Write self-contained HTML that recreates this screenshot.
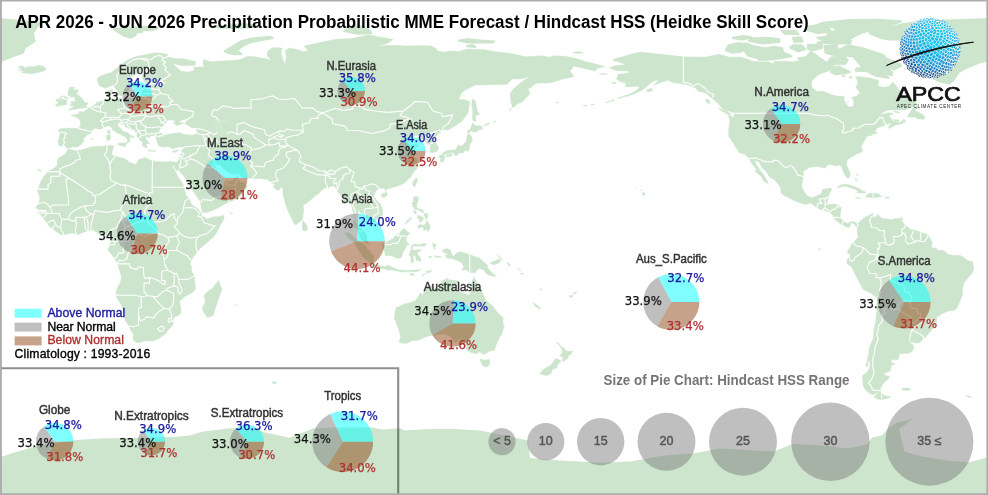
<!DOCTYPE html>
<html lang="en"><head><meta charset="utf-8"><title>APCC MME Forecast</title>
<style>
html,body{margin:0;padding:0;background:#fff}
svg{display:block}
text{font-family:'Liberation Sans',sans-serif}
.p{font-family:'DejaVu Sans','Liberation Sans',sans-serif;font-size:11.7px;text-anchor:middle;stroke-width:.25px}
.l{font-family:'Liberation Sans',sans-serif;font-size:11.9px;fill:#333;stroke:#333;stroke-width:.45px;text-anchor:middle}
.s{font-family:'Liberation Sans',sans-serif;font-size:12.5px;fill:#555;stroke:#555;stroke-width:.45px;text-anchor:middle}
.t{font-family:'Liberation Sans',sans-serif;font-size:18px;font-weight:bold;fill:#000}
.g{font-family:'Liberation Sans',sans-serif;font-size:12.2px;stroke-width:.35px}
</style></head>
<body>
<svg width="988" height="495" viewBox="0 0 988 495">
<rect width="988" height="495" fill="#fff"/>
<g id="land" fill="#cce5cc" stroke="#cce5cc" stroke-width=".4" stroke-linejoin="round">
<path d="M67.6 149.4L69.2 149.1L75.5 150.8L82.1 149.7L92.0 146.7L105.1 146.1L110.6 145.3L113.9 146.1L112.8 149.4L111.4 154.6L114.1 155.7L119.9 157.4L125.1 158.7L129.2 162.0L136.0 164.5L138.5 159.5L145.6 157.6L149.5 159.8L152.7 160.9L158.2 161.5L165.6 162.0L170.8 161.2L172.2 161.7L176.3 162.3L177.7 161.7L179.3 166.7L177.7 171.3L175.7 169.4L173.0 165.3L172.5 166.4L176.3 173.0L179.3 179.0L181.8 182.0L184.0 186.7L185.6 193.8L186.4 196.0L189.4 198.2L191.9 204.8L196.5 207.5L200.7 211.9L202.0 215.7L206.9 219.0L212.4 217.1L218.4 216.5L224.2 215.2L223.9 219.0L220.1 225.6L216.5 233.0L212.4 237.9L207.8 242.0L200.1 248.6L195.7 253.8L192.4 258.5L190.0 263.9L191.3 266.1L191.9 272.2L194.4 275.7L194.9 283.1L195.5 288.6L192.7 292.4L185.0 296.5L179.3 301.8L180.9 307.8L180.9 313.0L178.2 315.5L173.5 317.6L173.0 320.1L173.3 323.7L171.6 326.4L168.6 329.4L165.9 333.3L160.1 337.9L153.8 340.7L148.1 340.7L144.0 341.2L138.5 342.9L134.1 341.2L132.8 337.4L133.8 334.4L131.1 331.1L128.9 325.9L125.1 320.4L123.4 310.5L120.7 303.7L116.6 297.9L116.0 292.7L116.9 289.1L120.4 282.0L121.5 277.6L119.9 271.6L117.4 263.9L116.0 260.7L112.5 255.7L107.6 249.4L109.5 246.4L110.6 242.3L110.3 236.5L106.5 235.2L102.9 235.4L100.2 235.7L97.4 232.4L93.0 230.0L90.3 230.2L86.5 231.3L83.2 232.4L78.0 234.6L72.8 233.0L67.3 234.1L62.7 235.4L58.6 233.3L54.2 230.2L50.3 227.2L47.6 224.2L46.2 221.5L42.7 217.9L41.0 214.9L38.0 213.5L38.3 210.5L35.8 207.2L38.6 203.7L39.9 197.9L38.8 194.1L37.2 190.5L39.4 185.9L40.2 182.6L44.0 176.0L48.4 171.1L53.1 168.6L55.8 166.9L57.5 164.2L56.9 161.2L58.6 158.2L62.9 155.4L65.1 154.3Z M218.7 280.4L222.0 290.0L220.1 294.1L217.4 302.3L214.6 310.5L213.0 315.7L207.5 317.4L203.4 311.9L202.3 307.2L205.3 302.3L204.2 295.4L207.8 291.3L212.4 288.6L215.2 284.5Z M69.0 148.6L66.5 147.5L64.6 145.6L59.1 146.1L58.0 141.5L59.9 134.6L58.3 129.7L60.7 128.6L68.1 128.0L73.3 128.3L78.8 128.6L80.5 125.0L80.5 120.9L77.7 117.9L70.6 114.9L78.3 114.3L79.4 111.3L84.0 111.9L88.9 107.8L94.7 105.0L96.9 102.3L102.9 100.9L107.0 100.6L108.1 98.2L106.5 95.4L106.2 91.3L112.8 89.4L111.9 93.8L110.0 95.4L110.6 97.3L111.7 98.4L113.9 99.5L116.9 99.0L121.0 97.9L122.9 99.8L128.9 98.2L134.9 98.4L138.5 97.6L141.5 94.9L141.2 92.7L142.9 90.2L145.6 89.1L149.7 91.3L150.8 87.5L148.1 85.3L151.4 84.7L160.4 84.5L166.4 83.4L162.3 81.2L152.2 82.6L146.7 83.6L144.5 82.0L142.6 79.0L142.6 74.6L153.3 69.4L149.7 67.2L144.5 67.8L139.3 72.7L131.1 76.5L130.8 81.2L134.4 85.0L129.2 86.9L128.6 92.1L126.5 93.5L121.5 95.7L119.3 95.2L116.3 89.4L112.8 85.0L105.6 88.3L99.1 85.8L98.0 82.0L97.4 78.2L100.2 76.3L107.0 73.5L111.1 72.7L118.0 67.2L123.2 63.1L127.5 60.1L135.8 56.5L144.0 54.9L154.4 52.7L161.8 53.2L168.6 54.6L165.9 56.5L174.4 58.4L182.3 58.4L196.0 61.7L194.6 65.6L182.3 65.8L172.5 63.6L179.0 69.4L180.9 71.3L187.8 72.1L194.6 70.5L193.3 67.2L204.8 66.7L202.8 63.9L203.7 59.5L211.1 61.7L217.9 61.2L231.6 60.4L239.8 59.5L248.0 56.2L253.5 56.5L261.7 57.9L267.2 59.0L271.3 60.4L267.2 55.7L267.2 51.6L272.7 47.5L282.2 48.0L280.9 53.0L283.6 61.2L285.0 64.5L285.8 59.8L286.4 55.7L285.0 50.8L289.1 48.0L297.3 49.4L302.8 51.6L308.3 50.8L304.1 46.1L321.9 42.0L335.6 39.3L352.1 38.4L369.3 34.6L376.7 36.5L393.1 39.3L387.7 43.4L376.7 46.1L384.9 45.6L393.1 45.3L406.8 46.1L420.5 45.6L431.5 46.1L436.9 48.9L436.9 51.0L445.2 52.1L447.9 51.0L458.8 51.6L467.1 48.9L483.5 49.4L494.4 51.6L508.1 53.0L521.8 55.7L524.6 56.8L541.0 55.7L549.2 57.1L554.7 55.7L565.6 56.2L576.6 58.4L584.8 61.2L595.7 63.9L604.8 66.4L597.1 68.6L595.2 71.0L582.1 68.0L573.8 66.1L571.1 70.2L569.7 70.2L573.8 76.8L562.9 79.0L554.7 81.7L549.2 83.1L538.2 83.1L534.1 84.5L531.4 87.2L528.1 89.1L530.0 93.5L527.3 96.8L521.8 102.3L517.7 103.7L512.8 107.8L510.9 102.3L510.0 94.1L513.1 89.1L521.8 81.7L530.0 76.3L521.8 79.0L512.2 79.0L506.8 84.5L497.2 84.5L483.5 85.0L475.3 85.0L467.1 89.1L461.6 92.7L458.8 99.5L464.3 99.5L469.8 101.5L468.4 110.5L467.9 113.2L461.6 121.5L454.7 126.1L447.9 130.2L445.2 129.4L441.6 131.6L439.1 133.0L435.6 137.4L433.1 138.4L432.8 140.1L435.8 142.8L438.0 146.1L438.3 148.9L437.2 151.3L433.1 152.4L429.8 152.4L430.4 148.9L430.4 144.8L427.4 144.2L426.0 141.5L424.3 138.2L416.7 140.9L418.3 136.0L415.0 135.4L411.2 138.2L406.3 140.6L408.2 143.4L409.6 145.3L416.1 144.5L419.1 145.6L413.4 148.9L410.4 152.4L413.7 156.3L417.5 160.6L417.2 162.6L413.7 164.5L417.8 165.8L416.4 169.4L414.5 170.8L411.2 176.3L407.1 180.4L403.3 183.7L396.4 186.4L394.5 186.9L389.8 188.3L386.3 189.4L385.5 191.9L384.4 188.6L380.3 188.3L376.2 190.5L373.4 196.3L378.3 202.3L380.0 203.4L382.7 209.7L382.7 214.9L377.0 219.0L375.3 221.5L370.7 223.9L371.5 220.1L369.0 218.5L367.1 218.5L364.4 214.1L360.3 212.7L358.9 210.5L357.3 213.3L355.3 218.7L355.9 222.3L359.2 227.8L363.6 230.5L366.8 235.2L366.8 239.8L369.0 243.7L366.8 243.7L363.6 241.5L361.1 239.3L358.4 232.7L356.2 228.3L352.9 225.6L353.7 220.1L354.0 214.6L352.3 209.1L351.0 202.3L347.1 202.0L344.7 204.2L341.9 203.7L342.5 198.2L340.0 194.1L338.1 192.4L335.1 186.4L331.5 186.1L328.8 187.8L325.0 188.0L321.9 190.0L319.2 193.2L315.9 195.4L311.8 199.0L309.1 201.2L306.1 203.7L303.3 205.3L303.6 211.6L302.5 219.3L300.0 222.0L297.9 223.1L295.9 225.3L293.5 222.8L292.4 220.1L288.5 212.2L285.8 205.0L283.1 195.4L282.8 189.4L282.2 186.7L278.1 190.8L272.7 186.7L275.4 184.5L271.3 183.1L267.2 179.5L260.3 178.5L254.3 178.7L249.7 178.2L242.0 177.4L237.9 173.2L234.1 174.6L227.5 171.9L222.8 168.3L220.6 164.8L217.4 164.8L215.2 166.9L217.1 170.8L220.9 174.9L222.8 179.5L224.2 176.0L225.0 180.1L227.5 181.2L232.7 180.6L235.2 178.2L238.2 175.4L238.2 178.7L239.8 181.7L244.2 182.8L247.5 185.9L243.9 191.6L241.7 194.1L238.4 198.2L231.9 200.9L226.7 203.1L218.2 207.8L212.4 210.5L206.9 212.4L202.6 212.7L201.2 206.9L200.1 201.2L196.0 195.4L191.1 188.6L187.8 181.5L183.4 175.7L179.3 170.8L179.6 166.7L177.7 161.7L179.0 159.5L179.6 157.6L180.9 154.6L181.8 153.2L181.8 150.2L182.9 147.2L178.5 146.7L173.5 148.9L167.8 146.4L163.4 147.2L161.2 146.7L158.8 146.1L157.1 142.3L156.8 139.8L155.5 137.9L160.4 136.8L165.6 136.0L163.1 135.2L170.8 133.8L179.8 132.4L183.1 134.3L192.4 135.2L197.6 133.5L196.0 129.7L192.4 128.0L187.2 125.0L184.5 123.1L188.6 119.5L191.3 118.2L186.4 118.4L184.5 119.5L179.0 120.9L180.1 122.6L183.7 123.1L180.7 124.2L177.4 125.6L175.5 125.3L175.2 123.7L172.7 123.1L176.0 121.2L172.7 120.1L167.8 120.1L165.1 123.7L162.3 126.4L160.1 129.1L159.0 131.1L160.4 132.7L163.1 134.6L159.0 135.2L156.8 136.8L155.5 137.8L157.1 136.3L154.7 135.7L150.5 135.4L149.5 137.9L147.5 137.4L146.4 136.3L145.6 137.9L146.7 139.8L149.5 143.4L148.6 143.7L146.7 143.7L146.2 144.8L147.3 147.8L145.3 147.8L144.2 146.1L143.2 146.7L142.1 144.5L143.2 142.8L142.3 142.6L140.4 140.6L139.0 139.3L136.9 136.8L136.9 134.3L136.0 132.1L133.3 130.8L128.6 128.3L125.4 126.7L123.2 123.4L121.5 124.5L121.3 122.3L117.7 123.1L118.0 124.5L118.2 126.9L120.7 128.0L122.6 131.1L128.1 132.7L130.0 134.9L133.0 136.3L134.1 138.4L133.0 137.9L130.8 136.5L129.2 138.7L130.6 140.6L128.9 142.3L126.7 143.7L127.3 141.5L127.5 139.5L126.5 137.9L124.3 136.3L122.6 135.7L121.0 134.6L117.1 133.0L116.0 132.1L112.5 130.0L111.9 128.3L110.6 126.7L108.1 125.8L107.0 126.1L103.7 127.8L99.9 129.4L98.5 128.9L96.1 128.6L94.4 128.3L92.0 130.8L92.8 131.6L89.8 134.1L87.0 134.9L86.2 136.0L82.9 139.3L84.3 141.5L82.4 142.6L81.3 144.5L77.7 146.9L71.7 146.9Z M68.1 110.2L72.5 109.7L77.2 108.9L80.2 108.3L87.6 107.5L85.7 106.4L88.4 103.1L84.3 102.6L83.7 100.6L82.1 98.2L79.9 96.8L78.3 94.6L75.5 94.1L76.6 93.2L78.3 91.0L78.3 89.4L72.2 90.0L75.3 87.5L70.0 86.9L69.2 88.9L67.9 91.3L68.4 93.2L67.9 96.0L70.9 95.4L69.8 97.3L74.2 97.1L75.0 99.3L75.5 101.2L71.1 101.5L70.9 102.8L72.5 103.9L69.2 105.3L72.8 106.1L75.0 106.7L76.3 106.4L72.5 107.2L71.4 107.8Z M63.5 95.7L68.4 97.9L66.8 99.5L67.0 101.5L66.5 104.5L61.0 105.6L56.9 106.4L55.3 104.7L57.5 103.4L58.8 101.7L55.8 101.2L56.1 99.5L60.2 98.7L59.9 97.3L61.0 96.3Z M21.6 72.7L29.0 73.5L32.5 73.8L39.9 72.1L44.0 71.0L46.5 69.1L43.8 66.7L39.4 65.3L34.5 66.4L28.2 66.7L24.9 68.0L22.1 65.6L18.0 67.2L22.4 69.4L18.0 69.9L23.5 71.3Z M572.5 52.4L579.3 51.6L583.4 53.0L576.6 53.5Z M472.5 98.7L475.3 100.9L476.1 105.0L477.5 111.9L479.9 113.8L475.3 116.0L475.8 119.3L476.6 120.9L473.9 121.5L472.3 119.8L472.5 116.0L472.8 110.5L471.7 105.0Z M472.3 122.8L475.3 125.6L481.6 126.1L482.7 128.9L478.6 130.0L475.8 132.4L471.2 131.1L467.9 133.8L467.1 131.1L470.3 129.1L471.7 125.6Z M469.5 133.8L471.2 136.5L472.5 139.3L471.2 142.6L469.8 143.9L469.5 146.4L469.3 149.7L467.1 151.6L466.5 150.0L464.3 151.3L463.8 152.7L462.1 152.7L458.8 152.7L458.6 153.5L456.9 155.7L455.6 155.7L453.6 153.5L454.5 152.7L450.6 152.7L447.9 153.5L445.7 154.6L442.4 154.3L442.1 153.2L445.2 151.6L447.9 150.2L452.0 150.0L454.7 150.0L456.1 148.9L458.0 145.3L459.7 144.8L458.8 146.7L463.0 145.3L464.3 143.4L466.5 140.6L467.1 137.9L466.8 136.3L467.9 134.6Z M446.5 154.9L451.2 153.5L452.5 154.9L451.2 156.3L449.3 156.0L447.9 157.6L446.3 156.0Z M442.1 154.6L444.3 155.4L445.2 157.1L443.5 161.5L441.6 162.6L440.2 161.7L440.5 158.5L438.9 157.1L439.7 155.4Z M416.4 178.2L417.8 179.0L416.4 183.1L414.8 187.2L412.8 185.0L412.6 182.8L415.0 179.0Z M386.8 192.4L387.7 193.8L386.3 196.0L383.8 197.6L381.4 196.8L381.1 194.6L383.6 193.0Z M302.8 220.6L305.2 223.1L307.7 227.0L307.4 229.7L304.4 231.3L302.5 229.7L302.2 225.6Z M413.9 196.8L418.3 196.8L418.3 200.9L416.7 203.7L416.7 206.4L417.8 208.6L423.0 209.7L423.5 213.0L421.3 211.9L419.1 210.2L417.0 209.4L413.9 209.4L414.8 207.5L412.8 206.9L412.0 202.8L413.4 202.0L413.1 199.6Z M427.1 220.6L429.5 224.2L430.4 227.5L429.3 230.2L427.1 232.2L427.6 228.9L423.8 230.5L423.3 227.5L421.6 227.0L418.0 228.6L417.8 226.1L420.5 224.2L422.7 225.6L425.2 224.2Z M424.1 213.3L427.4 213.3L427.9 216.8L426.0 219.6L425.2 219.3L425.4 216.3L424.1 216.0Z M417.8 215.2L420.8 216.0L422.2 217.9L423.3 216.8L423.3 219.6L421.6 221.5L421.1 222.6L419.1 221.2L420.0 218.7L417.5 218.7Z M404.6 224.5L408.2 222.0L410.9 219.3L411.5 216.5L410.4 217.9L407.4 220.6Z M413.1 210.8L415.9 211.1L416.4 213.8L415.0 214.1Z M383.8 242.0L385.7 242.8L388.5 240.7L393.1 238.7L395.9 235.2L398.6 233.8L401.3 231.1L403.5 228.3L406.0 230.0L406.8 231.3L410.1 233.3L406.8 236.0L406.0 238.5L406.8 242.0L409.6 244.8L406.3 245.3L405.5 248.9L403.5 251.1L402.2 254.4L401.9 257.1L397.5 258.7L393.1 256.3L389.6 255.7L385.5 255.4L384.9 252.4L382.7 247.5L382.2 243.9Z M344.7 232.2L349.9 233.3L354.0 237.1L358.6 241.2L361.6 242.8L365.8 245.9L367.9 250.2L369.6 250.5L371.2 254.1L374.0 255.7L373.7 259.8L373.4 263.4L371.8 263.4L369.9 262.8L363.8 257.9L358.4 250.2L354.3 242.8L346.9 236.3Z M371.8 266.1L374.0 263.7L376.2 264.2L381.1 265.9L386.0 266.4L387.7 265.0L392.3 267.2L397.0 268.9L397.0 271.1L393.1 270.2L387.7 270.0L382.2 268.6L378.1 268.6L375.1 267.5Z M397.2 269.7L401.3 270.0L404.1 270.5L409.6 270.2L412.3 270.2L420.0 269.7L420.5 270.5L415.0 271.9L409.6 271.6L404.1 272.2L401.3 271.9L397.2 271.1Z M421.9 275.7L424.1 273.3L426.5 271.1L432.0 270.5L430.1 272.2L426.0 273.5L423.3 275.4Z M409.6 273.5L412.8 273.3L414.5 274.9L412.3 275.7L409.6 274.4Z M411.8 245.3L414.5 243.9L419.1 244.8L424.6 243.1L426.5 243.4L424.6 246.4L420.5 246.1L416.4 246.1L412.8 246.1L412.3 250.0L415.6 250.0L418.3 249.7L421.6 250.0L421.3 250.5L417.0 252.7L418.9 256.3L421.1 258.5L420.5 262.0L418.6 260.7L416.4 260.4L415.0 254.9L413.1 255.4L413.4 260.7L413.4 262.8L410.9 262.6L410.9 257.1L409.0 254.9L410.4 251.1Z M432.8 242.0L434.2 244.8L436.1 243.4L436.1 246.7L433.9 246.7L435.3 249.7L433.4 248.3L432.8 244.8Z M434.2 255.7L441.9 256.5L439.7 257.4L434.5 256.8Z M428.7 256.3L432.0 256.5L430.9 257.9L429.0 257.4Z M442.4 249.7L446.5 248.6L450.6 249.7L451.2 253.0L453.4 256.5L456.1 253.5L460.2 251.6L464.3 253.0L469.8 254.6L475.3 256.8L479.4 257.9L482.9 261.2L486.2 263.9L488.4 265.9L486.8 266.7L489.0 269.4L491.7 272.2L494.4 274.9L496.6 275.7L494.4 276.5L489.0 275.2L486.2 273.5L483.5 270.0L479.4 268.3L476.6 270.2L475.3 272.7L469.8 272.4L465.7 269.7L461.6 270.2L463.8 266.7L461.6 262.6L456.1 260.1L450.6 258.2L447.3 258.5L445.2 255.4L449.3 254.4L445.7 253.5L442.4 251.3Z M489.8 262.8L494.4 261.2L498.5 259.0L500.7 259.3L499.9 262.6L495.8 264.5L491.7 264.5Z M496.6 254.6L499.9 256.5L502.7 259.8L501.8 260.1L498.5 256.3Z M507.0 261.7L510.3 264.8L509.8 266.4L507.6 263.9Z M520.5 273.0L524.0 273.8L522.6 274.6L520.7 274.1Z M517.7 268.3L521.3 270.5L520.5 270.8L517.4 269.1Z M473.9 276.8L476.6 281.8L478.0 286.7L481.6 290.0L482.9 293.8L485.7 300.4L492.2 305.6L496.6 311.6L501.0 315.7L503.2 317.4L502.9 322.9L504.3 325.9L502.9 330.5L501.3 335.2L499.4 337.6L498.0 340.4L496.6 343.7L494.4 350.2L489.0 351.3L484.6 354.6L480.8 352.7L479.9 351.6L476.6 353.8L471.4 352.7L467.1 350.2L466.0 346.1L463.0 344.8L463.0 343.4L461.6 341.5L458.8 343.9L460.5 339.3L461.0 336.6L458.8 339.8L455.8 343.1L453.4 339.8L449.5 335.5L442.4 333.8L436.7 334.4L428.7 336.0L423.3 337.9L417.5 340.4L412.3 340.4L406.8 343.4L401.3 343.1L398.9 341.8L400.3 338.7L400.5 335.2L398.6 329.7L397.5 326.4L395.3 320.4L394.2 318.7L394.8 314.6L395.1 311.9L396.1 307.2L398.9 306.7L403.5 304.2L408.5 303.1L415.0 300.9L418.3 296.8L420.2 292.4L422.2 295.2L424.6 291.3L427.4 287.2L431.2 285.3L434.5 288.6L438.3 288.3L440.2 283.7L441.9 281.5L446.5 278.2L449.3 279.8L454.7 280.4L458.6 280.9L456.1 284.5L454.7 288.1L458.3 291.1L464.3 293.5L469.3 295.4L471.2 290.0L471.4 284.5L472.0 282.0Z M479.9 359.0L484.9 360.1L489.5 359.6L489.8 363.1L488.7 365.9L485.7 367.0L482.9 365.9L481.3 363.1Z M556.6 341.8L558.8 343.4L561.5 347.0L564.3 348.1L565.4 350.5L568.4 351.6L572.5 350.8L571.1 354.4L568.4 355.5L568.1 357.9L563.7 361.5L562.1 360.7L563.2 357.6L559.6 355.5L561.8 353.8L562.3 350.2L560.7 347.2L557.4 343.4Z M556.6 358.5L560.7 360.4L560.2 362.3L556.9 366.1L557.4 367.8L552.8 368.9L551.1 373.3L547.8 375.2L544.5 375.2L539.6 373.5L542.4 370.3L545.9 367.8L550.6 365.3L553.3 362.0L554.9 359.3Z M532.8 302.6L536.9 305.0L541.0 308.6L539.6 308.9L535.5 306.4L532.8 303.1Z M569.2 295.2L572.7 295.4L572.5 297.4L569.5 297.1Z M573.0 293.0L576.6 291.9L576.0 293.5L573.6 294.1Z M539.9 288.6L541.5 289.1L541.3 290.5L540.2 290.2Z M642.3 192.2L645.0 193.2L645.0 194.6L643.1 195.7L642.3 194.1Z M640.4 190.0L642.3 190.5L641.2 191.1Z M636.3 188.3L637.6 188.9L636.5 189.1Z M640.9 52.1L653.2 53.5L664.2 54.6L683.4 56.8L699.8 57.1L705.3 57.1L719.0 54.3L729.9 57.3L740.9 57.1L754.6 61.7L768.2 61.7L773.7 63.9L773.7 61.2L784.7 61.2L792.9 61.7L803.8 59.8L806.6 55.7L810.7 50.5L816.2 54.3L820.3 57.6L824.1 60.1L826.8 62.0L828.5 59.5L831.2 56.8L836.7 56.0L844.9 56.2L848.7 59.8L846.0 64.5L833.1 65.3L834.0 68.0L829.8 70.8L821.1 73.5L817.5 75.4L812.0 80.4L811.5 86.4L816.2 91.3L823.0 91.3L829.8 94.1L836.7 96.0L844.1 96.3L844.4 102.3L849.0 106.9L853.1 106.4L853.7 102.3L853.1 99.5L851.2 97.6L856.7 96.0L860.0 92.7L855.9 87.2L857.8 83.1L856.1 76.5L862.4 77.1L870.9 78.2L878.9 80.4L877.8 85.8L882.1 87.2L888.7 86.4L892.8 82.0L898.3 88.6L900.5 92.7L905.1 95.7L910.6 98.2L913.4 100.4L917.2 104.2L913.1 106.7L905.1 110.0L896.9 110.0L887.6 110.0L882.7 112.7L877.8 117.4L881.9 114.6L888.7 112.7L893.4 113.8L888.7 116.0L891.5 118.7L892.8 120.9L898.3 122.3L901.0 122.0L904.0 118.7L905.7 121.5L902.4 123.4L895.3 125.3L889.8 128.6L888.4 127.5L889.3 125.3L892.8 123.1L888.7 123.7L886.0 124.7L882.7 126.1L877.2 128.0L875.0 131.6L877.8 133.2L873.7 134.1L866.8 136.3L864.3 140.9L863.8 142.6L861.3 145.8L861.3 146.4L862.7 151.1L860.0 152.7L856.1 154.3L850.7 157.6L847.4 159.8L846.5 164.5L848.7 169.7L850.4 174.3L849.8 176.8L847.9 178.5L845.5 176.0L843.0 171.3L842.2 167.8L839.4 165.0L836.7 166.1L830.7 164.5L828.5 164.5L825.2 168.0L821.6 167.5L817.5 166.4L809.9 167.2L803.3 171.3L803.3 176.5L801.6 186.7L806.3 194.9L811.0 197.6L815.9 196.5L821.6 193.2L821.9 190.0L823.8 189.1L830.9 188.3L831.8 189.7L830.1 192.2L828.5 196.8L827.9 199.6L826.8 203.7L826.8 204.5L831.8 204.2L834.0 203.7L841.6 206.4L840.2 214.6L840.2 217.6L842.2 220.1L844.4 222.0L847.6 223.4L850.7 221.7L853.1 221.2L857.5 223.7L856.1 227.8L855.3 224.8L851.7 222.8L849.0 227.5L845.7 226.7L842.4 225.0L840.5 224.2L837.5 221.2L834.8 220.1L834.5 217.4L829.8 211.9L827.1 211.3L820.3 209.4L816.7 207.8L810.7 203.1L805.2 204.5L795.9 201.5L789.6 198.2L783.8 195.4L780.0 191.6L781.1 190.8L780.8 188.3L778.1 183.9L773.7 179.0L769.9 177.4L765.8 171.1L762.2 168.0L758.7 161.7L755.1 160.4L755.1 162.6L758.7 168.0L761.9 172.7L764.7 176.3L767.4 181.2L768.5 184.8L767.4 183.1L762.8 180.4L762.2 177.6L758.7 174.3L754.6 171.3L756.7 169.4L752.4 164.5L750.2 160.4L748.5 157.9L745.0 154.3L739.5 153.0L735.7 147.2L734.0 143.9L728.8 136.8L728.5 130.2L729.9 120.9L728.0 114.9L734.0 117.4L734.0 113.8L732.1 112.4L727.7 110.5L721.7 107.8L719.0 104.5L712.7 98.7L709.1 96.0L705.3 92.7L698.4 91.3L695.4 88.0L686.6 84.5L675.1 83.1L670.5 81.7L668.6 80.1L660.4 82.8L653.8 85.3L658.7 79.8L653.2 81.2L649.1 84.5L647.8 85.8L642.3 90.0L635.4 93.2L628.6 96.0L622.0 97.3L623.1 96.0L630.0 94.1L636.8 90.0L639.6 86.7L635.4 86.4L625.3 86.9L625.9 83.1L620.4 81.7L616.3 79.0L617.6 76.3L618.2 74.3L625.9 73.5L629.1 72.4L628.1 70.8L616.6 70.8L609.2 67.8L614.9 65.8L623.1 65.0L624.5 64.2L619.0 62.0L612.7 60.4L614.4 58.7L623.1 56.5L631.3 54.1Z M717.9 108.3L725.8 110.0L731.3 114.6L731.3 115.2L727.2 114.1L723.1 111.9Z M705.3 99.0L708.8 99.5L710.2 104.5L706.6 102.3Z M646.4 90.0L651.9 88.0L652.7 90.5L647.8 91.9Z M907.1 117.1L909.5 113.2L912.5 108.6L916.4 106.1L917.5 108.6L914.7 110.8L918.8 112.4L922.9 114.3L925.1 117.1L923.8 119.5L921.0 119.0L916.6 119.0L916.1 117.1Z M893.1 111.0L899.7 112.1L900.2 113.0L895.6 112.4Z M893.4 119.5L899.1 120.1L898.3 121.5L894.7 120.9Z M867.1 136.0L872.3 134.9L870.9 135.7Z M837.0 187.5L841.6 184.5L846.3 184.2L851.7 185.6L858.6 188.3L862.7 190.8L866.3 192.2L864.1 193.0L857.0 193.0L858.0 191.1L854.5 188.9L849.0 187.5L844.9 186.1L840.8 186.9Z M865.7 197.1L868.5 193.2L873.1 193.2L878.0 193.8L882.1 196.5L879.1 197.1L875.0 197.6L873.1 199.0L870.9 197.6Z M855.0 197.4L860.5 197.9L858.6 198.7Z M885.4 197.1L889.8 197.4L888.7 198.2L885.4 198.2Z M899.9 218.2L902.7 217.9L902.4 219.8L899.9 219.8Z M855.0 178.7L856.4 181.2L857.0 180.4L855.9 178.5Z M856.4 174.1L858.6 174.9L858.3 175.7L856.1 174.6Z M857.5 223.7L862.7 219.0L864.6 217.4L866.3 216.5L873.1 213.5L874.2 215.4L873.4 217.9L877.2 215.7L877.8 214.1L879.1 216.0L883.2 218.7L886.0 218.5L891.5 219.8L894.2 218.7L899.7 218.2L902.4 221.5L903.8 223.9L910.1 228.9L918.3 231.3L926.2 234.1L929.0 236.0L932.5 242.8L931.2 247.5L936.6 248.3L937.2 250.2L943.5 250.5L948.4 254.6L955.0 255.4L959.9 255.2L964.0 257.6L968.1 260.7L972.8 261.7L973.0 263.4L973.9 269.4L971.7 274.1L968.1 277.6L964.0 283.1L962.6 288.1L962.6 292.7L962.1 296.0L959.1 303.1L957.2 307.8L954.4 310.5L951.1 310.5L942.7 313.3L936.6 317.4L936.6 323.1L935.8 325.9L933.3 327.8L926.8 335.7L923.2 339.8L918.8 343.1L915.5 343.1L910.9 341.8L909.5 342.3L912.8 344.8L914.2 347.0L912.0 351.6L908.7 353.3L899.1 354.1L898.8 358.5L896.9 360.1L891.5 359.3L891.5 362.6L895.3 363.9L891.5 365.3L891.2 366.1L890.6 370.8L884.6 373.3L884.3 374.9L889.3 376.6L889.0 378.5L884.1 382.6L880.0 388.9L882.1 390.8L875.3 393.3L873.7 394.9L869.5 393.5L865.4 390.0L863.2 385.9L862.7 380.4L862.4 375.7L866.8 372.2L869.5 368.1L870.1 363.9L869.5 361.2L867.4 361.2L867.4 357.1L868.5 356.6L869.0 348.3L873.4 337.9L873.9 329.7L875.6 321.5L876.7 312.2L877.2 302.8L876.9 298.2L873.9 295.7L872.3 294.1L863.5 289.7L860.8 285.0L858.3 280.4L854.2 272.4L853.1 269.7L850.7 266.1L847.1 263.9L846.8 260.4L849.0 257.1L850.7 254.4L847.6 253.5L847.9 250.2L850.1 247.5L851.2 244.8L853.7 242.6L858.3 236.8L857.2 232.4L857.5 228.9L856.1 227.8Z M881.6 391.6L882.4 393.5L884.6 395.5L890.9 397.1L887.3 398.5L881.9 399.6L877.8 399.3L873.7 396.8L876.4 394.4L877.8 392.4Z M866.8 362.0L868.2 362.6L867.9 366.4L865.7 365.9Z M902.4 388.1L907.9 388.1L911.2 388.9L907.9 390.8L902.4 390.0Z M617.6 97.9L621.8 96.8L622.3 97.6L618.2 98.7Z M610.0 100.9L614.1 99.5L614.4 100.6L610.8 101.7Z M606.2 102.6L609.4 100.9L609.7 101.7L606.7 103.1Z M590.3 104.7L594.4 103.9L594.4 104.7L590.3 105.3Z M583.4 105.6L586.7 105.0L586.7 106.1L583.4 106.1Z M556.0 102.3L558.8 102.3L558.2 103.1L556.0 102.8Z M611.1 82.6L615.7 82.0L615.7 83.6L612.2 83.6Z M599.3 73.5L606.7 73.8L607.2 74.6L599.9 74.3Z M483.5 125.6L488.4 123.1L490.3 123.1L486.2 125.6Z M493.1 122.0L495.8 120.6L495.3 121.5L493.3 122.6Z M509.0 110.0L511.4 108.3L511.1 109.7L509.5 110.5Z M857.2 61.2L862.7 60.6L864.1 62.6L858.6 63.1Z M849.0 76.5L852.3 76.8L851.2 78.7L849.6 78.2Z M842.2 75.2L845.5 75.2L845.2 76.5L842.2 76.8Z M844.9 102.0L849.0 102.3L847.6 102.8Z M965.4 395.5L970.9 396.3L971.1 397.7L966.7 396.6Z M272.1 381.8L276.8 382.0L275.9 383.7L272.7 383.4Z M229.7 212.7L233.0 213.0L232.1 213.8L230.2 213.5Z M148.1 150.0L155.7 150.8L155.5 151.6L148.4 151.1Z M172.2 151.3L178.5 149.7L176.8 151.6L174.1 152.7L172.5 152.1Z M117.7 143.4L126.5 142.6L125.1 146.9L118.0 144.5Z M106.2 135.4L110.3 134.6L110.3 140.1L107.0 140.6L106.7 137.9Z M107.3 131.3L109.8 129.7L109.8 133.5L107.8 133.8Z M90.3 139.0L93.0 138.4L92.5 139.8L90.9 139.5Z M114.1 94.9L118.2 93.8L118.0 96.3L114.7 96.3Z M133.3 90.5L136.3 88.9L135.2 90.8L133.6 91.6Z M37.5 169.7L39.7 169.1L38.8 170.8L41.6 170.5L41.6 171.3L38.0 170.8Z M234.9 304.8L236.5 305.0L236.0 306.1L235.2 305.6Z M818.9 248.3L820.5 248.9L820.0 250.2L818.9 249.7Z"/>
<path d="M113.9 29.1L127.5 28.3L138.5 28.8L142.6 31.6L135.8 32.7L135.5 35.4L130.3 37.6L124.8 36.0L120.7 33.5Z M133.0 27.8L144.0 26.9L157.7 28.0L152.2 30.2L138.5 29.7Z M224.7 51.3L228.9 48.6L235.7 44.7L241.2 41.2L250.8 38.7L269.9 36.8L272.7 37.9L259.0 40.4L249.4 42.5L242.5 46.1L237.1 50.2L241.2 54.1L234.3 54.1L228.9 53.2Z M212.4 26.9L226.1 26.1L242.5 24.2L256.2 25.6L248.0 27.5L231.6 28.0Z M343.9 31.0L349.3 26.9L357.5 25.6L368.5 29.7L371.2 33.0L357.5 33.8Z M458.8 40.6L467.1 39.3L480.8 40.6L494.4 41.5L491.7 42.5L475.3 42.5L467.1 42.5Z M467.1 46.1L475.3 46.9L472.5 45.0Z M849.0 45.6L861.3 48.0L872.3 51.6L883.2 54.9L886.0 58.4L899.7 63.9L901.0 65.8L894.2 69.4L884.6 65.8L891.5 72.1L892.3 75.2L881.9 73.0L888.7 77.9L875.0 75.4L866.8 71.0L855.9 70.8L856.4 68.3L861.3 68.6L861.3 65.8L858.6 62.6L855.9 59.5L853.1 56.2L844.9 55.7L836.7 55.7L825.7 53.0L824.4 46.1L836.7 45.3L838.1 50.2L847.6 45.6Z M745.0 51.3L748.3 55.7L757.3 57.9L758.7 59.8L771.0 59.5L781.9 57.9L791.5 56.2L783.3 52.4L781.9 48.0L773.7 46.9L765.5 48.6L754.6 46.4L745.0 48.6Z M725.8 50.2L732.6 52.7L740.9 51.6L746.3 48.9L753.2 46.1L747.7 43.9L736.8 43.4L728.5 45.3Z M749.1 40.6L762.8 43.4L779.2 42.0L779.2 39.3L768.2 37.9L754.6 38.2Z M790.1 47.5L798.4 51.6L805.2 48.9L801.1 45.3L792.9 45.3Z M807.9 44.7L821.6 44.7L821.6 48.0L813.4 50.2L807.9 48.9Z M817.5 37.9L825.7 40.6L817.5 42.8L836.7 43.4L850.4 43.1L850.9 40.6L839.4 38.2L824.4 37.1Z M825.7 37.6L850.4 38.7L856.4 35.1L864.1 31.9L875.0 29.4L892.8 24.2L901.0 21.4L877.8 19.8L850.4 20.1L823.0 22.8L817.5 25.0L834.0 27.5L836.7 30.5L828.5 33.8Z M806.6 26.9L820.3 24.7L828.5 28.3L831.2 31.6L817.5 33.0L806.6 29.7Z M792.9 37.9L801.1 37.6L802.5 41.5L794.3 42.0Z M781.9 31.0L795.6 31.0L798.4 34.3L784.7 33.8Z M732.6 37.9L743.6 36.0L751.8 37.6L740.9 39.5Z M831.2 67.5L839.4 66.9L849.8 72.1L843.5 73.5L835.3 74.3L831.2 72.1L834.0 69.4Z M798.4 58.4L807.9 57.1L806.6 59.8L799.7 59.5Z M-116.1 33.2L-105.2 37.9L-97.0 39.5L-86.0 39.3L-75.1 41.2L-69.6 48.0L-65.5 53.5L-55.9 57.9L-63.3 63.9L-57.8 71.6L-52.3 77.6L-47.7 80.9L-36.7 83.6L-32.6 80.4L-27.1 72.1L-19.2 67.8L-6.6 62.6L2.1 60.4L10.4 57.1L23.2 52.4L24.9 47.5L34.5 41.2L32.8 33.0L39.4 23.4L23.5 21.2L-1.1 19.3L-39.5 20.6L-66.9 22.0L-83.3 24.2L-94.2 26.9L-102.4 28.8Z M869.5 33.2L880.5 37.9L888.7 39.5L899.7 39.3L910.6 41.2L916.1 48.0L920.2 53.5L929.8 57.9L922.4 63.9L927.9 71.6L933.3 77.6L938.0 80.9L948.9 83.6L953.1 80.4L958.5 72.1L966.5 67.8L979.1 62.6L987.8 60.4L996.0 57.1L1008.9 52.4L1010.6 47.5L1020.1 41.2L1018.5 33.0L1025.1 23.4L1009.2 21.2L984.5 19.3L946.2 20.6L918.8 22.0L902.4 24.2L891.5 26.9L883.2 28.8Z" stroke-width="2.1"/>
<path d="M0.0 456.5L2.5 456.5L12.6 453.0L25.0 449.4L38.0 445.6L76.0 440.0L101.0 438.5L126.5 438.0L177.0 436.8L190.0 435.5L202.0 431.7L228.0 428.4L250.0 427.8L267.0 433.0L281.0 435.7L289.0 437.7L295.0 435.7L313.0 428.6L331.0 427.6L372.0 427.6L382.0 429.6L400.0 428.2L404.5 430.4L430.0 429.0L455.0 429.0L480.0 430.4L505.0 435.5L528.0 440.5L530.0 458.0L556.0 460.3L601.5 462.8L632.0 461.3L662.0 455.7L695.0 453.2L720.0 448.6L747.0 450.0L774.0 451.4L793.0 443.8L828.5 446.0L847.5 448.6L866.5 444.6L872.0 437.8L882.7 435.0L888.0 428.3L896.3 422.9L912.6 418.8L904.4 425.6L899.0 428.3L901.7 440.5L904.4 451.4L923.4 456.8L950.5 460.9L969.5 462.2L988.0 457.3L988.0 495.0L0.0 495.0Z" stroke="none"/>
</g>
<path id="caspian" d="M211.6 125.3L213.8 122.6L217.9 120.1L223.4 119.0L226.1 119.0L228.9 119.5L229.4 123.4L223.9 123.9L221.5 125.6L223.7 128.0L227.5 130.2L228.3 133.8L228.9 137.9L231.0 140.6L231.3 144.8L231.6 146.4L226.1 147.2L219.3 144.8L217.6 142.3L218.7 139.3L221.5 137.1L219.3 136.3L216.0 132.4L213.8 129.7L213.8 126.9Z" fill="rgba(255,255,255,.08)"/>
<path id="borders" d="M683.4 56.8L683.4 82.3L688.8 83.1L692.9 86.1L698.4 83.6L704.2 87.5L708.6 92.4L713.5 94.1L712.7 97.3 M732.1 113.2L808.8 113.2L810.4 114.1L817.5 115.2L824.4 116.0L827.4 115.2L837.2 119.0L840.8 121.5L843.5 123.4L843.8 129.7L841.9 132.1L843.5 133.2L853.1 130.2L852.6 128.3L859.1 128.0L860.5 126.4L864.9 124.2L873.7 124.2L875.6 123.1L877.8 119.5L880.0 117.6L883.2 117.9L883.8 121.7L885.4 123.7L886.0 124.7 M748.8 158.5L755.4 157.9L765.5 161.7L773.2 161.7L773.2 160.4L777.8 160.4L783.3 166.4L786.9 168.0L789.0 165.8L791.8 165.8L795.6 170.8L797.8 174.9L803.3 176.5 M817.0 207.8L817.0 205.6L818.3 203.4L821.9 203.4L819.2 200.1L820.3 198.7L825.2 198.7L827.7 196.8 M825.2 198.7L825.2 203.9L826.8 204.5 M825.2 203.9L824.9 208.0L822.7 210.0 M824.9 208.0L827.1 209.4L829.0 210.8 M830.4 211.9L832.0 209.7L834.8 209.1L837.0 206.9L841.6 206.4 M834.8 217.1L837.5 217.4L840.2 217.6 M842.4 225.0L842.4 222.6L843.3 221.2 M856.1 227.8L858.0 225.9L857.5 223.7 M873.1 193.5L873.1 198.7 M874.2 215.2L870.9 217.1L869.5 222.0L871.2 224.5L871.2 227.2L877.5 228.3L879.4 230.8L884.6 230.5L883.8 235.7L885.2 238.2L885.4 241.2L886.2 244.2 M886.2 244.2L885.7 242.8L878.3 242.8L878.3 244.5L880.0 244.8L879.4 248.9L877.8 248.0L878.0 259.0 M878.0 259.0L875.8 257.9L877.5 254.9L869.8 254.1L867.6 251.1L863.2 247.8L860.5 246.4L857.2 246.4L853.7 243.7 M863.2 247.8L862.4 251.6L859.7 254.6L855.3 257.1L853.9 260.1L851.7 261.2L849.6 259.6L849.6 256.8 M878.0 259.0L869.8 262.0L867.1 267.5L869.8 273.3L876.1 273.5L876.1 277.6L879.1 277.6 M879.1 277.6L881.3 281.8L880.5 288.1L879.4 290.2L881.0 292.2L878.9 294.9L879.1 295.4L876.7 297.6 M879.1 277.6L881.9 277.6L890.6 274.4L890.4 279.6L893.1 281.5L897.5 283.1L900.2 284.5L903.8 285.3L904.6 291.9L909.5 292.2L909.8 294.9L912.0 297.4L910.3 301.8L910.1 302.8 M879.1 295.4L881.9 301.8L881.9 304.8L883.5 310.0 M883.5 310.0L888.2 307.2L893.4 310.0L898.0 308.3L898.8 303.7L900.2 301.2L907.6 300.4L910.1 302.8 M910.1 302.8L910.9 308.1L916.6 308.6L917.7 313.3L920.7 313.5L919.9 317.6 M898.0 308.3L902.4 312.7L908.4 315.5L911.7 317.6L909.0 322.3L915.0 322.6L919.9 317.6 M919.9 317.6L922.4 319.3L922.1 322.0L916.6 325.3L911.7 330.2 M911.7 330.2L916.1 332.2L919.9 333.8L923.8 337.1L923.2 339.8 M911.7 330.2L910.1 336.6L909.5 340.7 M883.5 310.0L885.4 313.3L881.9 314.6L882.4 321.2L878.6 325.6L877.8 332.4L876.4 333.8L878.3 338.7L876.4 343.9L875.0 347.5L874.5 353.8L872.8 358.5L872.8 362.6L873.1 368.1L874.2 372.2L872.8 376.3L870.9 380.4L868.2 383.1L871.5 386.4L872.3 390.0L882.1 390.8 M881.6 391.9L881.6 397.9 M886.2 244.2L890.1 245.3L894.2 242.3L893.6 236.3L897.5 236.5L900.2 236.0L903.2 233.3 M903.2 233.3L901.3 231.3L902.1 229.1L904.3 228.0L905.7 224.8 M903.2 233.3L905.4 233.8L904.9 235.2L906.2 236.8L905.4 241.2L907.9 243.9L910.6 243.4L914.7 242.3 M914.7 242.3L912.5 238.5L910.6 236.5L912.8 233.3L912.8 231.1 M914.7 242.3L916.4 240.7L919.9 241.2L924.6 241.5L927.9 236.5L928.1 235.4 M919.9 241.2L921.0 237.9L920.5 233.8L921.6 231.6 M77.7 151.3L79.1 155.7L80.5 159.0L75.5 160.6L73.6 162.8L69.5 165.3L65.9 166.1L59.9 168.9L59.9 172.7 M59.9 171.6L47.6 171.6 M59.9 172.7L59.9 176.3L50.9 176.3L50.9 183.1L48.1 184.5L48.1 189.1L37.2 189.1 M59.9 172.7L70.6 179.0L86.5 189.4L87.0 190.5L92.5 193.2L92.8 195.4L95.2 195.2 M70.3 179.0L65.9 179.0L68.7 202.8L68.7 205.0L57.7 205.0L52.3 205.3L50.3 207.5 M50.3 207.5L48.1 204.8L44.0 202.0L38.6 203.7 M50.3 207.5L52.5 213.5L46.2 213.0L38.0 213.5 M37.7 210.2L46.0 210.5L46.0 211.3L37.7 211.6 M46.2 213.0L46.2 215.4L42.7 217.6 M52.5 213.5L59.1 213.5L61.8 219.6 M47.3 222.8L53.6 220.1L55.5 224.2L58.0 227.2L60.7 226.7L61.8 219.6 M52.3 228.6L55.5 224.2 M60.7 226.7L61.0 230.2L63.2 232.4L63.2 235.4 M61.8 219.6L68.7 219.0L71.4 220.9L76.1 220.9L76.3 225.9L75.0 230.2L76.1 233.5 M76.1 220.9L75.8 217.4L83.7 217.1L85.1 224.2L85.4 228.6L87.0 230.8 M86.2 217.4L88.1 222.8L88.1 230.5 M93.6 215.4L91.1 224.2L91.1 230.0 M83.7 217.1L86.2 217.4L90.3 214.9L91.4 213.5L93.6 215.4 M68.7 219.0L69.5 215.2L71.7 212.7L75.0 210.0L78.3 208.6L82.4 206.4L84.3 206.4L87.3 205.6L93.3 205.3L95.2 202.0L95.2 195.2 M84.3 206.4L86.5 210.8L89.8 213.5L90.3 214.9 M93.6 215.4L94.7 210.5L102.9 211.9L108.4 212.4L113.9 210.8L121.0 210.0L120.7 207.8L126.2 201.2L126.2 192.7L124.8 184.5 M95.2 195.2L99.6 194.3L116.6 183.1L122.6 185.6L124.8 184.5L149.5 194.1 M107.3 146.4L106.2 152.7L104.3 154.9L108.4 159.8L109.8 164.5L110.8 173.5L109.8 175.4L111.1 180.4L116.6 183.1 M109.8 164.5L111.9 160.6L115.2 156.5 M152.7 160.9L152.2 168.0L152.2 187.2L184.8 187.2 M149.5 194.1L149.5 192.7L152.2 192.7L152.2 187.2 M149.5 194.1L149.5 204.5L145.3 209.1L144.5 212.7L146.4 217.4L141.2 221.5L135.8 222.8L128.9 226.4L125.6 227.0 M125.6 227.0L122.1 220.6L126.2 220.1L124.8 216.0L123.4 212.7L121.0 210.0 M122.3 211.6L121.5 217.4L118.5 223.7L116.0 228.3L111.1 229.7L107.3 234.3 M125.6 227.0L123.4 232.4L127.0 239.0L127.8 241.5L128.9 238.7L134.7 237.9 M110.6 241.2L120.2 241.5L127.8 241.5 M110.6 244.8L114.7 244.8L114.7 241.5 M120.2 241.5L123.2 243.9L123.2 248.9L123.2 253.0L118.8 253.0L116.0 257.9L114.1 258.2 M134.7 237.9L132.5 247.5L128.1 253.0L127.3 258.2L123.2 260.9L119.3 260.1L117.1 263.4 M134.7 237.9L137.1 233.8L145.1 236.3L152.2 233.3L158.8 233.8 M146.4 217.4L148.6 223.7L152.2 226.4L158.8 233.8 M148.6 223.7L150.8 223.4L156.3 221.5L160.4 221.7L165.9 220.1L171.4 214.6L174.6 214.1L174.1 218.2L176.8 221.5 M177.1 224.2L177.7 218.5L179.6 216.0L182.6 212.7L183.4 208.0L185.0 200.9L189.4 198.2 M183.4 208.0L190.5 207.5L194.6 208.3L199.8 213.3L197.9 216.0L201.2 217.6L202.0 216.0 M201.2 217.6L204.2 222.8L212.4 225.6L215.2 225.6L206.9 233.8L198.7 236.0L198.5 236.8 M198.5 236.8L191.9 237.9L187.8 237.6L182.3 235.4L179.6 233.0L174.1 226.1L177.1 224.2 M198.5 236.8L196.0 239.8L196.0 247.5L197.4 252.2 M179.6 233.0L176.8 236.0L168.6 237.4L168.1 237.9L164.5 235.2L158.8 233.8 M176.8 236.0L179.6 242.6L176.8 247.5L176.8 250.2L187.0 255.7L191.1 260.4 M168.1 237.9L169.2 241.5L165.6 246.1L164.8 251.3L163.1 254.9L163.7 257.9L164.2 259.6 M164.8 251.3L167.2 250.5L168.1 254.1L167.2 257.1L164.2 259.6 M167.2 250.5L176.8 250.2 M164.2 259.6L164.5 263.9L167.8 270.2L173.8 273.3L176.8 273.5L178.5 279.0L183.7 279.6L189.2 278.7L194.4 276.0 M173.8 273.3L174.6 281.8L173.3 284.8L174.6 285.9L178.2 287.2L177.9 291.9L180.1 294.4L181.8 291.3L181.8 288.1L179.3 284.5L178.5 279.0 M167.8 270.2L162.9 270.8L161.5 273.0L162.0 276.3L161.5 280.4L165.3 280.9L165.3 284.2L162.9 283.9L158.8 280.9L153.0 278.5L149.5 277.6L149.5 283.1L144.0 283.1 M117.4 263.9L129.2 263.7L130.3 267.8L136.9 269.4L138.5 266.7L143.4 267.5L143.7 274.1L144.5 278.2L149.5 277.6 M144.0 283.1L144.0 291.9L147.8 295.7 M116.0 294.9L122.1 295.2L134.1 295.2L142.3 296.8L147.8 295.7L153.0 296.3 M141.2 297.6L141.2 307.8L138.5 307.8L138.5 315.5L138.5 325.3L133.0 326.7L128.9 325.9 M138.5 315.5L140.4 320.9L144.0 319.3L146.7 316.8L153.6 317.9L157.7 312.4L164.2 308.3 M164.2 308.3L159.0 303.7L153.0 296.3L157.7 296.5L162.9 291.3L167.0 290.2L166.4 288.6L174.6 285.9 M167.0 290.2L173.8 293.3L173.5 300.9L172.5 305.9L169.4 308.9L164.2 308.3 M169.4 308.9L171.4 314.6L171.4 318.5L171.6 320.9L173.8 321.2 M157.7 328.6L161.8 325.9L164.2 328.1L162.6 331.1L159.6 331.3L157.7 328.6 M168.6 318.2L171.4 318.7L171.6 320.9L168.6 322.3L168.1 320.1L168.6 318.2 M59.4 132.7L61.3 132.1L65.7 132.7L66.8 133.5L64.8 135.2L64.6 138.7L63.2 139.0L64.6 142.8L63.2 144.8L63.5 145.6 M78.8 128.6L85.7 130.2L88.4 131.1L92.5 131.3 M90.6 107.5L95.2 110.5L99.6 111.9L101.3 111.9L106.2 113.2L104.5 117.1L100.2 120.9L102.9 121.7L102.1 123.9L102.9 126.4L104.3 127.5 M93.0 106.7L97.4 106.4L99.6 107.2L100.2 108.3L100.7 105.6L102.9 104.2L103.5 101.5 M100.2 108.3L100.4 110.2L101.3 111.9 M107.3 97.1L110.6 97.3 M122.6 99.8L123.7 103.4L124.0 105.8L124.8 107.8L117.4 109.7L121.5 113.8L119.3 117.4L112.5 117.4L110.0 117.4L104.5 117.1 M102.9 121.7L107.0 120.9L109.2 120.1L112.2 119.8L110.0 118.4L110.0 117.4 M112.2 119.8L117.1 118.7L121.3 120.1L121.3 122.6 M121.5 113.8L124.8 113.2L130.0 114.3L130.6 116.0L128.9 118.7L127.8 119.0L121.3 120.1 M124.8 107.8L128.9 109.7L132.2 109.7L135.2 111.9L138.5 112.7L145.3 113.0 M135.2 111.9L130.0 114.3 M145.3 113.0L149.5 109.1L148.4 106.4L148.1 103.7L149.2 99.8L148.1 99.5L146.2 98.4L138.0 98.4 M148.1 99.5L153.6 99.0L156.6 94.9L150.8 93.2L141.2 93.8 M146.2 98.4L145.9 96.8L142.1 96.0 M150.3 88.9L154.9 89.1L158.8 90.0L161.0 93.5L156.6 94.9 M158.8 90.0L159.0 87.2L160.4 84.5 M161.0 93.5L168.3 95.2L168.6 97.6L173.3 101.2L169.4 102.0L170.8 104.7 M148.4 106.4L157.7 106.1L167.2 106.9L170.8 104.7L176.8 104.2L180.9 109.1L187.8 110.5L193.3 111.6L192.7 116.0L188.3 118.4 M145.3 113.0L144.5 114.9L146.4 116.0L151.9 116.8L156.6 115.2L160.4 119.8L161.0 122.8L164.8 123.4 M156.6 115.2L163.1 116.0L165.9 120.4L161.0 122.8 M130.6 116.0L135.2 116.5L138.5 115.4L144.5 114.9 M146.4 116.0L141.8 120.6L139.3 120.9L135.2 121.7L130.3 121.5L128.9 120.1L127.8 119.0 M139.3 120.9L142.3 124.7L145.9 126.4L146.7 127.5L153.6 127.8L157.7 126.7L162.0 127.8 M145.9 126.4L145.1 130.2L146.7 134.3L150.8 133.8L155.7 133.2L160.4 132.4 M155.7 133.2L156.0 135.4L154.9 136.0 M138.5 138.7L141.2 135.7L146.7 134.3 M141.2 135.7L139.9 133.0L138.8 130.8L136.9 132.7 M135.2 121.7L136.3 124.5L136.3 128.3L138.8 130.8L145.1 130.2 M127.0 123.7L130.3 123.7L135.8 124.5 M127.0 123.7L128.1 126.4L131.9 129.7L134.4 131.1 M121.0 122.8L125.6 122.8L128.9 120.1 M114.1 85.8L117.4 82.6L117.4 79.0L116.9 74.1L122.1 70.8L124.8 66.1L128.9 62.6L133.6 59.8L139.9 58.4L148.6 61.5L148.6 65.8L149.7 67.2 M139.9 58.4L151.4 59.5L154.9 56.5L160.4 55.4L163.1 58.2L168.3 56.8 M162.9 58.2L161.8 60.6L165.9 62.0L163.1 64.2L166.2 67.5L165.1 69.9L170.3 75.2L159.9 81.7 M63.8 96.8L61.3 98.2L66.5 99.3 M182.3 148.9L184.2 146.7L187.8 146.7L195.2 145.8L199.8 145.8L206.4 145.6L205.0 142.3L204.5 139.5L206.4 138.7 M197.4 133.8L202.8 134.9L203.4 137.6L206.4 138.7L211.1 140.9L215.2 138.7L217.6 142.3 M193.3 128.6L200.1 129.1L205.6 130.5L210.8 132.7L214.6 134.6L216.8 133.0 M202.8 134.9L206.9 134.3L210.8 132.7 M206.9 134.3L208.6 135.7L211.1 139.3L211.1 140.9 M199.8 145.8L196.0 153.2L190.0 156.0L184.5 159.0L181.5 157.9 M181.2 157.9L180.9 161.2L179.6 166.7 M182.3 152.7L184.0 153.8L182.0 156.3L179.8 156.8 M190.0 156.0L191.1 159.3L185.0 161.2L187.8 163.9L186.4 165.3L182.3 167.5L179.6 166.9 M191.1 159.3L194.4 160.1L198.7 162.3L206.1 167.5L211.1 167.8L214.3 165.0L215.2 165.3 M211.1 167.8L213.8 168.0L216.3 169.4 M206.4 145.6L208.0 148.9L210.2 151.3L208.0 154.3L210.0 157.1L214.6 159.8L214.3 162.6L216.5 165.3 M200.9 202.6L202.0 199.8L205.6 199.8L211.6 200.4L215.2 197.6L226.1 195.4L234.3 192.7L236.0 187.2L234.9 185.3L227.8 184.8L225.0 181.2 M234.9 185.3L236.5 181.2L238.2 179.3 M226.1 195.4L229.1 202.0 M231.3 145.3L233.8 143.4L237.9 143.1L240.6 142.8L243.6 144.5L246.1 144.8L248.8 146.9L251.3 147.2L251.3 150.0L249.7 153.0L250.2 161.2L252.9 162.6L250.5 165.8L254.9 170.0L256.8 173.0L252.4 178.5 M250.5 165.8L264.4 166.7L265.5 162.6L273.5 160.1L274.0 157.1L278.1 154.3L279.5 148.9L288.8 145.6 M251.3 150.0L260.3 148.0L265.8 145.0L275.4 144.5L279.0 142.6L279.8 146.4L288.8 145.6 M218.4 120.4L216.5 117.6L212.4 116.0L211.1 114.9L213.8 109.4L217.1 110.5L222.8 105.8L230.2 107.2L234.3 108.6L244.2 107.8L251.9 108.3L250.8 105.0L250.8 99.8L262.3 98.7L272.7 95.7L278.1 99.0L285.0 99.5L294.0 98.4L297.0 101.5L302.8 108.3L312.1 107.8L317.3 111.6L322.8 112.7 M322.8 112.7L318.4 115.2L317.8 118.4L311.0 118.2L309.1 122.8L302.5 124.5L303.3 131.9 M303.3 131.9L300.0 130.2L291.8 130.0L286.4 129.1L285.0 131.3L278.1 131.1L277.9 131.9L272.7 134.1L269.9 136.3L265.8 134.6L264.4 129.7L250.8 126.1L243.9 122.6L237.1 124.2L237.1 134.3L231.6 131.6L227.5 133.2 M237.1 134.3L239.8 134.3L244.2 130.5L248.0 131.9L253.2 134.6L254.6 137.9L259.5 140.9L265.8 145.0 M303.3 131.9L297.3 135.2L294.3 135.2L286.4 137.6L285.5 139.5L285.3 142.0L288.8 145.6 M285.5 139.5L276.8 139.0L273.5 137.4L268.3 140.1L269.9 146.1 M277.9 131.9L279.5 134.3L283.6 135.7L280.9 137.1L276.8 135.4L273.5 137.4 M322.8 112.7L335.6 108.3L342.8 110.5L352.9 109.1L351.5 105.6L363.6 106.9L363.8 109.1L376.7 111.3L387.7 112.4L403.3 111.0 M322.8 112.7L324.7 114.3L332.1 118.7L332.9 123.7L344.9 126.1L347.7 130.5L359.7 130.8L371.2 133.5L383.6 131.1L390.1 127.8L390.1 124.2L400.3 123.1L406.8 119.5L411.5 119.5L405.2 116.8L400.0 115.7L403.3 111.0 M403.3 111.0L412.0 104.7L415.0 101.5L427.6 102.3L432.8 111.0L441.6 113.5L442.4 116.8L452.8 114.9L448.2 123.9L443.2 126.9L443.0 129.4L441.3 131.3 M441.3 131.3L438.9 130.0L434.2 132.4L431.2 133.0L424.3 137.9 M430.6 143.9L435.3 141.7 M379.4 188.6L375.6 184.8L372.3 183.7L365.8 185.9L363.6 186.1L362.2 189.4L360.8 188.3L355.3 186.9L354.5 181.7L351.0 181.7L354.0 172.2L350.4 170.0L346.6 166.9L342.5 167.2L335.6 171.3L330.2 170.0L327.1 172.7 M335.6 171.3L334.8 174.1L327.4 174.1L327.1 172.7L325.0 171.1L319.2 170.8L313.7 167.2L306.1 164.8L299.5 161.7L299.5 158.5L301.4 157.1L299.5 153.2L297.3 150.2L291.8 147.5L288.8 145.6 M325.0 171.1L325.0 175.2L316.5 174.6L308.3 171.3L303.1 168.6L306.1 164.8 M270.5 182.6L278.1 180.4L275.4 176.3L276.2 170.8L283.3 168.0L287.7 162.6L289.9 159.0L286.4 157.1L286.4 152.4L294.6 150.2L297.3 150.2 M327.4 187.8L326.9 185.3L325.0 180.4L325.8 175.2L329.6 176.3L329.6 178.2L336.5 178.7L333.4 181.7L333.7 184.2L336.5 182.6L337.3 189.1L336.5 190.8 M337.3 189.1L338.9 186.7L339.2 181.7L342.8 178.5L344.4 174.3L349.3 173.2L350.4 170.0 M353.7 220.1L355.3 215.2L355.1 209.7L352.6 205.9L353.7 202.8L350.4 196.8L352.1 193.5L357.8 191.6L360.8 188.3 M357.8 191.6L358.9 194.1L360.8 194.1L360.6 199.6L363.3 197.6L368.5 197.4L370.4 202.3L372.9 208.0L378.1 207.2 M371.8 208.3L365.8 208.6L364.1 210.2L365.5 215.4 M363.6 186.1L365.8 190.0L369.9 191.6L368.5 194.3L371.8 196.5L375.6 202.0L378.1 206.4L378.1 207.2L378.1 213.5L374.0 215.4L373.7 217.4L369.9 219.0 M357.8 230.0L360.6 231.9L363.3 230.5 M383.8 242.0L384.9 244.8L389.8 244.8L393.1 243.4L397.5 243.4L400.0 239.3L400.5 235.7L405.7 236.0 M396.1 234.9L398.1 236.3L399.4 234.1 M469.8 254.6L469.8 272.4 M423.5 273.3L426.0 272.4L426.0 273.5" fill="none" stroke="#fff" stroke-width="1.1" stroke-linejoin="round" stroke-linecap="round"/>
<g id="frame">
<path d="M0 368.2H398.2V495" fill="none" stroke="rgba(0,0,0,.44)" stroke-width="2.1"/>
<path d="M0 0H988V495H0Z M1.9 1.5V493.2H986.4V1.5Z" fill="#adadad" fill-rule="evenodd"/>
</g>
<g id="sizes">
<circle cx="502.0" cy="441.7" r="13.6" fill="rgba(128,128,128,.5)"/><circle cx="545.8" cy="441.7" r="18.6" fill="rgba(128,128,128,.5)"/><circle cx="600.7" cy="441.7" r="23.7" fill="rgba(128,128,128,.5)"/><circle cx="666.5" cy="441.7" r="29.0" fill="rgba(128,128,128,.5)"/><circle cx="743.0" cy="441.7" r="34.0" fill="rgba(128,128,128,.5)"/><circle cx="830.4" cy="441.7" r="39.2" fill="rgba(128,128,128,.5)"/><circle cx="929.4" cy="441.7" r="44.0" fill="rgba(128,128,128,.5)"/><text x="502.0" y="445.4" class="s">&lt; 5</text><text x="545.8" y="445.4" class="s">10</text><text x="600.7" y="445.4" class="s">15</text><text x="666.5" y="445.4" class="s">20</text><text x="743.0" y="445.4" class="s">25</text><text x="830.4" y="445.4" class="s">30</text><text x="929.4" y="445.4" class="s">35 ≤</text>
<text x="603.5" y="384.7" style="font-size:14.5px;font-weight:bold;fill:#757575" textLength="246" lengthAdjust="spacingAndGlyphs">Size of Pie Chart: Hindcast HSS Range</text>
</g>
<g id="pies">
<path d="M137.4 96.4L152.30 96.40A14.9 14.9 0 0 0 129.23 83.94Z" fill="rgba(0,255,255,.5)"/><path d="M137.4 96.4L129.23 83.94A14.9 14.9 0 0 0 130.61 109.66Z" fill="rgba(128,128,128,.5)"/><path d="M137.4 96.4L130.61 109.66A14.9 14.9 0 0 0 152.30 96.40Z" fill="rgba(139,69,19,.5)"/><path d="M351.2 91.0L365.00 91.00A13.8 13.8 0 0 0 342.54 80.26Z" fill="rgba(0,255,255,.5)"/><path d="M351.2 91.0L342.54 80.26A13.8 13.8 0 0 0 346.20 103.86Z" fill="rgba(128,128,128,.5)"/><path d="M351.2 91.0L346.20 103.86A13.8 13.8 0 0 0 365.00 91.00Z" fill="rgba(139,69,19,.5)"/><path d="M411.6 151.0L425.60 151.00A14.0 14.0 0 0 0 404.10 139.18Z" fill="rgba(0,255,255,.5)"/><path d="M411.6 151.0L404.10 139.18A14.0 14.0 0 0 0 405.24 163.47Z" fill="rgba(128,128,128,.5)"/><path d="M411.6 151.0L405.24 163.47A14.0 14.0 0 0 0 425.60 151.00Z" fill="rgba(139,69,19,.5)"/><path d="M225.0 178.0L247.50 178.00A22.5 22.5 0 0 0 207.75 163.55Z" fill="rgba(0,255,255,.5)"/><path d="M225.0 178.0L207.75 163.55A22.5 22.5 0 0 0 220.65 200.07Z" fill="rgba(128,128,128,.5)"/><path d="M225.0 178.0L220.65 200.07A22.5 22.5 0 0 0 247.50 178.00Z" fill="rgba(139,69,19,.5)"/><path d="M137.4 233.5L157.90 233.50A20.5 20.5 0 0 0 125.67 216.69Z" fill="rgba(0,255,255,.5)"/><path d="M137.4 233.5L125.67 216.69A20.5 20.5 0 0 0 130.21 252.70Z" fill="rgba(128,128,128,.5)"/><path d="M137.4 233.5L130.21 252.70A20.5 20.5 0 0 0 157.90 233.50Z" fill="rgba(139,69,19,.5)"/><path d="M357.0 241.2L384.80 241.20A27.8 27.8 0 0 0 358.75 213.45Z" fill="rgba(0,255,255,.5)"/><path d="M357.0 241.2L358.75 213.45A27.8 27.8 0 0 0 331.09 251.27Z" fill="rgba(128,128,128,.5)"/><path d="M357.0 241.2L331.09 251.27A27.8 27.8 0 0 0 384.80 241.20Z" fill="rgba(139,69,19,.5)"/><path d="M452.5 323.5L475.70 323.50A23.2 23.2 0 0 0 454.10 300.36Z" fill="rgba(0,255,255,.5)"/><path d="M452.5 323.5L454.10 300.36A23.2 23.2 0 0 0 432.46 335.18Z" fill="rgba(128,128,128,.5)"/><path d="M452.5 323.5L432.46 335.18A23.2 23.2 0 0 0 475.70 323.50Z" fill="rgba(139,69,19,.5)"/><path d="M671.3 302.0L699.30 302.00A28.0 28.0 0 0 0 658.28 277.21Z" fill="rgba(0,255,255,.5)"/><path d="M671.3 302.0L658.28 277.21A28.0 28.0 0 0 0 657.20 326.19Z" fill="rgba(128,128,128,.5)"/><path d="M671.3 302.0L657.20 326.19A28.0 28.0 0 0 0 699.30 302.00Z" fill="rgba(139,69,19,.5)"/><path d="M781.6 123.9L800.30 123.90A18.7 18.7 0 0 0 770.90 108.57Z" fill="rgba(0,255,255,.5)"/><path d="M781.6 123.9L770.90 108.57A18.7 18.7 0 0 0 773.43 140.72Z" fill="rgba(128,128,128,.5)"/><path d="M781.6 123.9L773.43 140.72A18.7 18.7 0 0 0 800.30 123.90Z" fill="rgba(139,69,19,.5)"/><path d="M904.1 302.0L930.60 302.00A26.5 26.5 0 0 0 888.79 280.37Z" fill="rgba(0,255,255,.5)"/><path d="M904.1 302.0L888.79 280.37A26.5 26.5 0 0 0 893.27 326.19Z" fill="rgba(128,128,128,.5)"/><path d="M904.1 302.0L893.27 326.19A26.5 26.5 0 0 0 930.60 302.00Z" fill="rgba(139,69,19,.5)"/><path d="M54.7 441.7L73.40 441.70A18.7 18.7 0 0 0 43.90 426.43Z" fill="rgba(0,255,255,.5)"/><path d="M54.7 441.7L43.90 426.43A18.7 18.7 0 0 0 46.95 458.72Z" fill="rgba(128,128,128,.5)"/><path d="M54.7 441.7L46.95 458.72A18.7 18.7 0 0 0 73.40 441.70Z" fill="rgba(139,69,19,.5)"/><path d="M151.4 441.7L165.10 441.70A13.7 13.7 0 0 0 143.42 430.57Z" fill="rgba(0,255,255,.5)"/><path d="M151.4 441.7L143.42 430.57A13.7 13.7 0 0 0 145.80 454.20Z" fill="rgba(128,128,128,.5)"/><path d="M151.4 441.7L145.80 454.20A13.7 13.7 0 0 0 165.10 441.70Z" fill="rgba(139,69,19,.5)"/><path d="M247.0 441.7L264.10 441.70A17.1 17.1 0 0 0 235.85 428.73Z" fill="rgba(0,255,255,.5)"/><path d="M247.0 441.7L235.85 428.73A17.1 17.1 0 0 0 241.01 457.72Z" fill="rgba(128,128,128,.5)"/><path d="M247.0 441.7L241.01 457.72A17.1 17.1 0 0 0 264.10 441.70Z" fill="rgba(139,69,19,.5)"/><path d="M342.7 441.7L373.10 441.70A30.4 30.4 0 0 0 330.28 413.95Z" fill="rgba(0,255,255,.5)"/><path d="M342.7 441.7L330.28 413.95A30.4 30.4 0 0 0 326.41 467.37Z" fill="rgba(128,128,128,.5)"/><path d="M342.7 441.7L326.41 467.37A30.4 30.4 0 0 0 373.10 441.70Z" fill="rgba(139,69,19,.5)"/>
</g>
<g id="pietext">
<text x="144.5" y="86.8" fill="#1818a0" stroke="#1818a0" class="p">34.2%</text><text x="122.5" y="100.7" fill="#111" stroke="#111" class="p">33.2%</text><text x="145.2" y="112.6" fill="#b03030" stroke="#b03030" class="p">32.5%</text><text x="137.4" y="73.5" class="l" textLength="37.0" lengthAdjust="spacingAndGlyphs">Europe</text><text x="357.2" y="82.1" fill="#1818a0" stroke="#1818a0" class="p">35.8%</text><text x="337.6" y="96.6" fill="#111" stroke="#111" class="p">33.3%</text><text x="359.0" y="105.9" fill="#b03030" stroke="#b03030" class="p">30.9%</text><text x="351.2" y="70.1" class="l" textLength="49.6" lengthAdjust="spacingAndGlyphs">N.Eurasia</text><text x="418.3" y="142.2" fill="#1818a0" stroke="#1818a0" class="p">34.0%</text><text x="397.6" y="155.2" fill="#111" stroke="#111" class="p">33.5%</text><text x="418.9" y="166.4" fill="#b03030" stroke="#b03030" class="p">32.5%</text><text x="411.6" y="128.8" class="l" textLength="31.2" lengthAdjust="spacingAndGlyphs">E.Asia</text><text x="232.7" y="160.4" fill="#1818a0" stroke="#1818a0" class="p">38.9%</text><text x="203.8" y="189.0" fill="#111" stroke="#111" class="p">33.0%</text><text x="239.3" y="198.9" fill="#b03030" stroke="#b03030" class="p">28.1%</text><text x="225.0" y="147.4" class="l" textLength="36.1" lengthAdjust="spacingAndGlyphs">M.East</text><text x="146.9" y="218.8" fill="#1818a0" stroke="#1818a0" class="p">34.7%</text><text x="117.1" y="239.6" fill="#111" stroke="#111" class="p">34.6%</text><text x="149.1" y="253.8" fill="#b03030" stroke="#b03030" class="p">30.7%</text><text x="137.4" y="203.8" class="l" textLength="29.6" lengthAdjust="spacingAndGlyphs">Africa</text><text x="377.3" y="225.7" fill="#1818a0" stroke="#1818a0" class="p">24.0%</text><text x="334.6" y="228.3" fill="#111" stroke="#111" class="p">31.9%</text><text x="362.1" y="272.0" fill="#b03030" stroke="#b03030" class="p">44.1%</text><text x="357.0" y="203.1" class="l" textLength="31.3" lengthAdjust="spacingAndGlyphs">S.Asia</text><text x="469.5" y="311.2" fill="#1818a0" stroke="#1818a0" class="p">23.9%</text><text x="432.8" y="314.8" fill="#111" stroke="#111" class="p">34.5%</text><text x="458.6" y="349.4" fill="#b03030" stroke="#b03030" class="p">41.6%</text><text x="452.5" y="291.3" class="l" textLength="57.4" lengthAdjust="spacingAndGlyphs">Australasia</text><text x="685.8" y="281.5" fill="#1818a0" stroke="#1818a0" class="p">32.7%</text><text x="643.3" y="304.9" fill="#111" stroke="#111" class="p">33.9%</text><text x="685.2" y="329.8" fill="#b03030" stroke="#b03030" class="p">33.4%</text><text x="671.3" y="263.2" class="l" textLength="70.8" lengthAdjust="spacingAndGlyphs">Aus_S.Pacific</text><text x="790.2" y="110.8" fill="#1818a0" stroke="#1818a0" class="p">34.7%</text><text x="763.0" y="128.9" fill="#111" stroke="#111" class="p">33.1%</text><text x="791.5" y="143.3" fill="#b03030" stroke="#b03030" class="p">32.2%</text><text x="781.6" y="95.9" class="l" textLength="54.8" lengthAdjust="spacingAndGlyphs">N.America</text><text x="916.3" y="282.0" fill="#1818a0" stroke="#1818a0" class="p">34.8%</text><text x="877.7" y="308.1" fill="#111" stroke="#111" class="p">33.5%</text><text x="918.5" y="327.7" fill="#b03030" stroke="#b03030" class="p">31.7%</text><text x="904.1" y="264.6" class="l" textLength="52.9" lengthAdjust="spacingAndGlyphs">S.America</text><text x="63.3" y="428.6" fill="#1818a0" stroke="#1818a0" class="p">34.8%</text><text x="36.1" y="447.0" fill="#111" stroke="#111" class="p">33.4%</text><text x="64.8" y="460.9" fill="#b03030" stroke="#b03030" class="p">31.8%</text><text x="54.7" y="414.4" class="l" textLength="31.5" lengthAdjust="spacingAndGlyphs">Globe</text><text x="157.7" y="433.0" fill="#1818a0" stroke="#1818a0" class="p">34.9%</text><text x="137.8" y="446.6" fill="#111" stroke="#111" class="p">33.4%</text><text x="158.8" y="456.7" fill="#b03030" stroke="#b03030" class="p">31.7%</text><text x="151.4" y="420.2" class="l" textLength="74.5" lengthAdjust="spacingAndGlyphs">N.Extratropics</text><text x="254.1" y="429.7" fill="#1818a0" stroke="#1818a0" class="p">36.3%</text><text x="230.2" y="448.2" fill="#111" stroke="#111" class="p">33.0%</text><text x="256.7" y="459.3" fill="#b03030" stroke="#b03030" class="p">30.7%</text><text x="247.0" y="416.8" class="l" textLength="72.3" lengthAdjust="spacingAndGlyphs">S.Extratropics</text><text x="359.2" y="419.7" fill="#1818a0" stroke="#1818a0" class="p">31.7%</text><text x="312.4" y="443.0" fill="#111" stroke="#111" class="p">34.3%</text><text x="357.3" y="471.8" fill="#b03030" stroke="#b03030" class="p">34.0%</text><text x="342.7" y="399.8" class="l" textLength="36.8" lengthAdjust="spacingAndGlyphs">Tropics</text>
</g>
<g id="legend">
<rect x="14.6" y="308.7" width="27" height="9" fill="#80ffff"/>
<rect x="14.6" y="322.6" width="27" height="9" fill="#c0c0c0"/>
<rect x="14.6" y="336.4" width="27" height="9" fill="#c5a289"/>
<text x="47.4" y="316.9" class="g" fill="#1818a0" stroke="#1818a0" textLength="77.9">Above Normal</text>
<text x="47.4" y="330.5" class="g" fill="#000" stroke="#000" textLength="68.3">Near Normal</text>
<text x="47.4" y="344.2" class="g" fill="#b03030" stroke="#b03030" textLength="76.5">Below Normal</text>
<text x="14.6" y="357.9" class="g" fill="#000" stroke="#000" textLength="135.7">Climatology : 1993-2016</text>
</g>
<text x="15.2" y="27.7" class="t" textLength="793.6" lengthAdjust="spacingAndGlyphs">APR 2026 - JUN 2026 Precipitation Probabilistic MME Forecast / Hindcast HSS (Heidke Skill Score)</text>
<g id="logo">
<circle cx="930.1" cy="48.2" r="30.2" fill="#f6f8ee"/>
<path d="M931.1 23.9L931.8 22.4L932.8 22.7L933.2 24.3L933.2 24.4Z" fill="#15b7ec"/><path d="M927.6 25.5L927.5 23.6L928.5 23.2L929.9 24.2L929.5 25.4Z" fill="#23c0fa"/><path d="M930.6 20.8L930.9 21.1L931.1 22.0L930.4 23.5L930.4 23.5L928.9 22.6L929.2 21.6Z" fill="#26b6f7"/><path d="M930.3 25.6L930.7 24.4L930.7 24.4L932.9 24.9L933.0 26.2L930.8 26.8Z" fill="#25bcf0"/><path d="M926.6 26.1L924.8 24.3L926.2 23.4L926.9 23.6L927.0 25.6Z" fill="#24baf2"/><path d="M934.0 22.0L933.4 22.6L933.8 24.2L935.3 23.3L935.4 23.2Z" fill="#1fc0e9"/><path d="M927.1 26.9L927.9 28.1L929.9 27.6L930.0 27.3L929.5 26.0L927.5 26.2L927.2 26.7Z" fill="#1fbcf3"/><path d="M927.3 20.4L926.4 20.5L926.3 22.1L926.5 22.6L927.1 22.8L928.0 22.5L928.3 21.5Z" fill="#0eb5f1"/><path d="M934.0 26.2L934.5 26.8L936.6 26.1L936.5 25.1L935.5 24.0L933.9 24.8L933.9 24.9Z" fill="#20c1f3"/><path d="M926.2 26.6L924.5 27.1L923.8 26.4L924.1 24.8L924.5 24.7L926.3 26.5Z" fill="#15b1e7"/><path d="M933.5 20.8L931.7 20.9L931.9 21.8L932.9 22.1L933.5 21.5Z" fill="#1ac0e3"/><path d="M930.9 27.9L931.5 29.4L932.7 29.7L933.9 28.4L933.8 27.5L933.3 26.8L931.0 27.5Z" fill="#24b7e9"/><path d="M923.5 21.9L925.4 22.5L925.6 23.0L924.2 23.9L923.9 24.0L923.0 23.4L923.0 23.2Z" fill="#1bbae1"/><path d="M938.3 23.7L937.1 24.4L936.1 23.3L936.1 23.2L936.9 22.0L937.1 21.9L937.5 22.0Z" fill="#0ac0ec"/><path d="M926.5 27.2L924.7 27.7L924.5 29.2L924.7 29.6L927.1 29.2L927.3 28.5Z" fill="#13b5e7"/><path d="M927.9 19.7L928.7 19.1L929.4 19.1L930.2 20.0L930.2 20.1L928.9 20.9L927.9 19.8Z" fill="#1cb6da"/><path d="M934.8 27.4L937.0 26.7L937.7 27.3L937.5 28.7L936.4 29.3L934.8 28.4Z" fill="#2ec4ed"/><path d="M922.5 23.9L923.3 24.6L923.0 26.2L921.5 26.4L920.9 25.6L921.0 24.8Z" fill="#21b2f9"/><path d="M934.1 20.8L934.1 21.5L935.5 22.7L936.3 21.6L934.3 20.7Z" fill="#24b6e7"/><path d="M928.0 28.8L927.9 29.4L928.4 30.9L929.1 31.1L930.8 29.8L930.1 28.2Z" fill="#18c0f5"/><path d="M923.8 21.2L925.6 21.8L925.7 20.2L925.7 20.2L925.2 20.1L923.7 21.1Z" fill="#16bbe4"/><path d="M939.5 26.3L938.2 26.7L937.5 26.1L937.4 25.2L938.7 24.4L939.0 24.5Z" fill="#1bc8de"/><path d="M923.7 29.1L921.3 28.9L921.1 28.4L921.6 27.2L923.2 26.9L923.9 27.6Z" fill="#14bcea"/><path d="M931.3 19.9L931.7 19.5L933.0 18.8L933.0 18.8L933.4 19.2L933.6 19.5L933.5 20.1L933.4 20.2L931.7 20.3L931.4 20.0Z" fill="#1bb6e3"/><path d="M936.0 31.7L936.0 29.9L934.4 28.9L933.1 30.3L933.5 31.5Z" fill="#1ab9e1"/><path d="M920.1 23.6L920.7 24.2L922.1 23.4L922.1 23.2L920.9 22.4L920.1 22.6Z" fill="#25a3dd"/><path d="M940.3 22.4L940.0 22.1L938.3 21.9L938.2 22.0L939.0 23.6L939.3 23.7L940.2 23.1Z" fill="#27c4e7"/><path d="M924.8 30.2L924.7 31.6L926.0 32.8L926.1 32.8L927.8 31.3L927.2 29.8Z" fill="#17c0e6"/><path d="M927.1 19.5L927.0 18.6L926.3 18.1L926.2 19.7L926.3 19.7L927.1 19.6Z" fill="#1fabe4"/><path d="M939.9 27.0L938.4 27.4L938.2 28.7L939.6 29.6L940.7 29.0L940.1 27.1Z" fill="#22caff"/><path d="M918.3 26.5L918.6 27.6L920.4 28.2L920.9 26.9L920.3 26.1Z" fill="#27a1ec"/><path d="M934.6 20.2L934.7 19.6L934.7 19.6L936.1 19.4L936.2 19.5L936.6 20.0L936.7 21.0L936.5 21.1Z" fill="#12aaee"/><path d="M929.6 31.5L930.6 33.0L932.2 33.3L932.9 31.8L932.5 30.5L931.3 30.2Z" fill="#16c1f8"/><path d="M922.1 20.5L922.2 20.5L922.9 21.2L922.9 21.4L922.5 22.6L921.3 21.8L921.7 20.7Z" fill="#16a2e5"/><path d="M940.6 23.9L939.6 24.4L940.1 26.2L940.4 26.3L942.0 25.3Z" fill="#25c3e1"/><path d="M923.7 29.7L921.2 29.6L920.8 30.7L921.2 31.8L921.8 32.1L923.9 31.5L923.9 30.1Z" fill="#16b9fa"/><path d="M930.6 19.5L931.0 19.1L931.0 18.1L930.4 17.9L929.9 18.5L929.8 18.7Z" fill="#22b4ee"/><path d="M936.9 32.0L938.7 32.3L939.1 30.3L937.8 29.4L936.7 30.0L936.7 31.8Z" fill="#19c8f4"/><path d="M918.2 24.4L917.8 25.7L918.1 26.0L920.1 25.6L920.1 24.7L919.5 24.2Z" fill="#13aae7"/><path d="M939.8 20.2L939.4 20.2L938.5 21.3L940.0 21.5L940.2 20.6Z" fill="#13bcef"/><path d="M929.0 31.8L930.0 33.3L928.6 35.0L927.9 35.0L926.5 33.2L928.3 31.7Z" fill="#24bef1"/><path d="M923.4 20.7L924.8 19.8L924.7 19.7L923.9 19.2L923.6 19.1L922.8 20.0Z" fill="#26b0dc"/><path d="M942.6 25.9L942.5 25.9L940.9 26.9L941.4 28.8L942.2 29.1L943.1 28.5L943.0 26.4Z" fill="#1ecdee"/><path d="M918.4 30.2L920.1 30.4L920.5 29.2L920.3 28.8L918.4 28.2L917.8 29.1Z" fill="#1ec4e5"/><path d="M936.2 32.5L935.3 34.6L932.9 33.8L932.8 33.6L933.5 32.0L936.0 32.2Z" fill="#1bbceb"/><path d="M917.8 23.2L919.0 22.1L919.5 22.6L919.4 23.6L918.2 23.8Z" fill="#27a4d7"/><path d="M942.6 24.9L942.5 24.9L941.1 23.5L941.2 22.8L941.5 22.7L943.1 23.2L943.2 24.0L943.2 24.1Z" fill="#14baf1"/><path d="M922.8 35.3L922.0 32.7L924.2 32.1L925.5 33.3L923.5 35.3Z" fill="#16c4e9"/><path d="M927.5 19.3L927.4 18.3L927.5 18.2L927.9 18.1L928.3 18.7Z" fill="#1eafe8"/><path d="M939.4 32.4L940.1 33.1L942.2 31.7L941.9 30.1L941.0 29.8L939.9 30.4Z" fill="#18c2f4"/><path d="M915.5 28.6L917.1 28.6L917.7 27.7L917.5 26.7L917.1 26.3L916.0 26.4L915.3 28.4Z" fill="#10a9e6"/><path d="M938.9 20.1L937.9 21.2L937.8 21.2L937.4 21.1L937.3 20.1L937.8 19.7L938.4 19.4Z" fill="#23b4e6"/><path d="M929.1 35.3L930.5 33.6L932.2 33.9L932.3 34.2L931.8 36.4L931.0 36.8Z" fill="#1dbeee"/><path d="M919.4 21.5L919.2 20.9L919.5 20.6L921.0 20.7L920.6 21.8L919.8 22.0Z" fill="#1ea8d8"/><path d="M943.6 26.4L943.8 28.5L944.6 28.6L945.7 27.3L945.6 27.0Z" fill="#19aef4"/><path d="M918.5 33.8L920.4 32.2L920.0 31.1L918.3 30.9L917.4 31.9L918.2 33.8Z" fill="#17b3de"/><path d="M931.5 18.9L932.7 18.3L932.0 17.5L931.5 17.9Z" fill="#1ab2ed"/><path d="M936.9 32.7L938.8 33.0L939.5 33.7L939.6 34.6L939.1 35.3L936.2 35.2L936.0 34.8Z" fill="#11caee"/><path d="M917.2 23.7L916.7 23.3L916.1 23.5L915.8 25.2L916.1 25.5L917.1 25.4L917.5 24.2Z" fill="#14a5dc"/><path d="M942.6 21.4L942.4 21.4L941.6 22.1L943.2 22.6L943.4 21.7Z" fill="#19b1eb"/><path d="M923.9 35.7L926.0 33.6L926.0 33.6L927.4 35.4L926.5 37.2L925.3 37.3Z" fill="#1cc1e7"/><path d="M925.0 19.3L924.2 18.9L924.9 18.2Z" fill="#16aaeb"/><path d="M944.4 29.4L945.3 30.5L944.9 31.4L943.3 31.7L943.0 31.5L942.6 29.9L943.5 29.3Z" fill="#1bceef"/><path d="M915.6 31.1L916.9 31.4L917.7 30.5L917.1 29.3L915.5 29.3Z" fill="#12b0db"/><path d="M935.3 35.1L935.5 35.6L935.0 37.4L934.9 37.6L932.4 36.5L932.8 34.4Z" fill="#1fcced"/><path d="M918.5 21.0L918.5 21.0L918.6 21.1L918.8 21.6L917.6 22.8L917.1 22.5L917.2 22.2L918.1 21.2Z" fill="#19b5e0"/><path d="M943.3 25.4L943.8 24.6L945.9 25.2L945.5 26.4L943.6 25.8Z" fill="#1dc1ea"/><path d="M922.2 35.5L921.5 32.9L920.8 32.6L918.9 34.4L920.3 36.2L920.9 36.4Z" fill="#1abbd7"/><path d="M942.6 35.3L940.4 34.5L940.3 33.7L942.5 32.3L942.9 32.5L943.4 34.4Z" fill="#27bbe7"/><path d="M913.5 27.9L913.4 25.4L913.5 25.4L913.5 25.4L915.0 25.8L915.3 26.1L914.6 28.0Z" fill="#1e9fd3"/><path d="M941.4 20.3L941.9 21.2L941.1 21.9L940.8 22.0L940.5 21.7L940.7 20.7Z" fill="#1dace3"/><path d="M927.9 35.7L927.0 37.5L928.1 39.0L930.3 38.4L930.6 37.2L928.7 35.7Z" fill="#0fbdf3"/><path d="M920.6 19.2L921.3 19.5L921.6 20.0L921.2 20.2L919.9 20.2L919.9 20.1Z" fill="#1ba4e6"/><path d="M945.0 29.0L945.8 30.0L946.6 29.8L946.7 29.7L946.3 27.8L946.1 27.7Z" fill="#1bb9eb"/><path d="M915.4 31.8L916.8 32.1L917.5 34.0L916.1 34.8L915.4 34.4L914.9 32.3Z" fill="#28ace6"/><path d="M933.9 18.6L934.7 17.4L933.8 17.4L933.4 18.3Z" fill="#1ab0e8"/><path d="M935.6 37.6L936.1 35.7L939.1 35.9L938.9 37.4L938.3 38.1Z" fill="#1bc2e9"/><path d="M915.3 23.2L915.0 23.1L913.8 24.6L915.3 25.0L915.6 23.3Z" fill="#13a0e2"/><path d="M944.2 24.2L944.3 24.1L945.9 23.4L946.0 23.5L946.4 24.3L946.5 24.6L946.2 24.8Z" fill="#22b8e3"/><path d="M922.7 36.0L921.2 37.0L921.7 38.9L923.8 38.9L924.7 37.6L923.4 36.0Z" fill="#20c3e1"/><path d="M945.2 32.1L943.5 32.4L944.1 34.3L945.9 34.1L946.2 33.5Z" fill="#22c8fd"/><path d="M912.5 31.0L913.4 29.0L913.4 29.0L914.6 29.1L914.8 29.3L914.9 31.1L914.4 31.5L912.9 31.5Z" fill="#1198e5"/><path d="M930.9 38.7L932.3 40.6L932.4 40.7L934.3 39.5L934.6 38.0L932.0 37.0L931.3 37.5Z" fill="#0dbee7"/><path d="M916.4 20.8L916.8 22.1L917.7 21.1Z" fill="#128eda"/><path d="M948.4 27.7L948.6 27.9L948.4 28.7L947.2 29.5L946.9 27.6Z" fill="#23c0ef"/><path d="M918.3 34.6L919.7 36.5L917.8 37.6L916.5 37.1L916.4 35.4L918.0 34.6Z" fill="#18bdeb"/><path d="M942.4 38.5L939.6 37.3L939.8 35.8L940.2 35.1L942.5 35.9L943.0 37.2Z" fill="#24b7f2"/><path d="M912.9 28.2L911.5 27.7L911.4 27.6L912.2 26.2L912.9 25.8L913.0 28.2Z" fill="#119cdc"/><path d="M944.6 21.5L944.8 21.8L945.4 22.4L945.5 22.8L943.9 23.6L943.8 22.8L944.1 21.9Z" fill="#12b7f2"/><path d="M924.4 39.3L925.1 41.3L925.6 41.5L927.4 40.3L927.7 39.4L926.6 37.9L925.3 38.0Z" fill="#1fc7e8"/><path d="M948.2 31.9L947.7 32.8L946.6 33.1L945.7 31.8L946.0 30.8L946.8 30.5Z" fill="#16b7ef"/><path d="M912.7 32.4L914.3 32.5L914.8 34.5L913.4 34.8L912.2 34.4Z" fill="#24a8e0"/><path d="M937.4 18.4L936.7 19.2L937.1 19.6L937.5 19.3Z" fill="#12b4e4"/><path d="M936.7 41.1L934.9 39.6L935.2 38.1L935.4 38.0L938.1 38.5L938.2 40.2Z" fill="#0cb6ed"/><path d="M913.4 24.5L913.4 24.5L913.5 23.3L914.1 22.8L914.2 22.8L914.6 23.1L913.4 24.5Z" fill="#13a6da"/><path d="M946.4 26.5L946.5 26.8L946.7 26.9L948.2 27.0L948.4 25.8L947.9 25.4L947.0 25.2L946.7 25.4Z" fill="#13b5f7"/><path d="M920.7 37.2L920.1 37.0L918.2 38.1L918.7 40.1L920.9 39.5L921.1 39.1Z" fill="#13bbec"/><path d="M943.7 37.0L943.3 35.8L944.0 34.9L945.9 34.7L946.2 36.1L945.7 36.8Z" fill="#27c8ec"/><path d="M910.8 30.6L911.3 28.5L912.8 28.9L911.9 30.9Z" fill="#1e9be3"/><path d="M944.2 21.0L943.8 21.4L943.0 21.1L943.2 20.3L944.3 21.0Z" fill="#1ac2e6"/><path d="M930.4 38.9L931.9 40.9L929.9 42.5L928.0 40.4L928.2 39.5Z" fill="#1fbef1"/><path d="M948.6 31.5L947.3 30.2L947.3 30.1L948.6 29.3L949.4 30.6L949.3 31.2Z" fill="#1cbef3"/><path d="M915.9 37.1L915.0 38.0L913.7 37.5L913.7 35.5L915.2 35.2L915.8 35.5Z" fill="#16a1ea"/><path d="M938.9 40.2L938.9 38.5L939.5 37.9L942.3 39.1L942.3 39.4L941.3 40.8L940.2 41.0Z" fill="#19bef9"/><path d="M910.3 26.4L910.5 27.2L910.7 27.4L910.9 27.4L911.7 26.1L910.6 25.9Z" fill="#2080d5"/><path d="M947.9 22.4L946.5 23.2L946.9 24.0L947.7 23.1Z" fill="#21bae3"/><path d="M923.8 39.4L924.6 41.4L922.2 42.3L921.4 39.9L921.6 39.4Z" fill="#28b7eb"/><path d="M947.9 33.6L946.8 33.9L946.5 34.4L946.8 35.8L948.7 36.1L948.8 34.5Z" fill="#1dc0f4"/><path d="M910.4 34.1L910.1 31.6L910.6 31.5L911.8 31.8L912.1 32.2L911.6 34.1L911.0 34.3Z" fill="#229ae6"/><path d="M936.4 41.6L934.6 40.0L932.7 41.2L934.4 43.9L934.5 43.9L936.3 42.4Z" fill="#16c2fd"/><path d="M950.5 28.2L949.2 28.1L949.0 28.9L949.8 30.1L950.7 29.5Z" fill="#1cc1e7"/><path d="M915.5 40.8L917.9 40.6L918.1 40.3L917.6 38.4L916.2 37.8L915.4 38.6L915.5 40.7Z" fill="#19aee7"/><path d="M943.0 38.9L943.6 37.6L945.6 37.5L946.1 38.8L944.9 40.1L943.1 39.2Z" fill="#19c4f5"/><path d="M909.8 30.6L909.5 30.5L908.9 29.8L910.5 28.3L910.7 28.3L910.8 28.4L910.3 30.5Z" fill="#2496de"/><path d="M945.8 22.2L945.3 21.6L946.5 21.6Z" fill="#22a9da"/><path d="M927.7 40.8L925.9 42.0L926.5 44.2L926.6 44.2L929.3 43.7L929.5 42.9Z" fill="#29cef0"/><path d="M949.0 32.2L948.5 33.1L949.4 34.1L950.9 33.7L951.0 32.8L949.6 31.9Z" fill="#1eb5e1"/><path d="M911.1 37.5L912.2 37.8L913.0 37.5L913.0 35.5L911.8 35.0L911.3 35.3Z" fill="#1d96e6"/><path d="M937.0 41.6L938.5 40.6L939.8 41.4L938.9 44.1L936.9 42.4Z" fill="#16c6ff"/><path d="M910.8 24.7L911.0 24.6L911.9 24.3L912.7 24.9L912.7 25.0L912.7 25.0L912.0 25.4L911.0 25.3Z" fill="#2991e0"/><path d="M950.2 25.8L949.2 26.1L949.1 27.3L949.2 27.5L950.5 27.6L950.6 27.5L950.6 26.9Z" fill="#13b0eb"/><path d="M919.3 43.4L921.4 43.3L921.8 42.5L920.9 40.1L918.7 40.8L918.5 41.1Z" fill="#26b2ed"/><path d="M946.3 37.2L946.8 36.5L948.7 36.8L949.2 37.4L948.5 39.1L946.9 38.6Z" fill="#1cb8ee"/><path d="M909.8 34.2L909.4 31.7L909.1 31.6L907.7 33.1L908.1 33.6L909.0 34.2Z" fill="#2694dc"/><path d="M942.7 20.0L942.1 19.3L941.9 19.9L942.3 20.8L942.5 20.8Z" fill="#22adf1"/><path d="M932.2 41.3L932.2 41.4L933.9 44.1L931.8 45.4L930.6 45.0L929.9 43.8L930.1 43.0Z" fill="#28d0fa"/><path d="M952.1 30.5L951.6 32.1L951.3 32.2L950.1 31.4L950.2 30.8L951.0 30.2Z" fill="#18b3e3"/><path d="M914.8 40.6L914.8 38.6L913.4 38.2L912.5 38.5L912.9 40.8Z" fill="#139ee8"/><path d="M943.2 43.6L945.1 41.8L944.7 40.6L942.9 39.7L941.9 41.2Z" fill="#27bff6"/><path d="M908.3 28.8L908.5 28.1L909.2 27.8L909.9 27.8L910.1 28.0L908.6 29.4L908.3 29.3L908.3 29.1Z" fill="#108fce"/><path d="M947.8 23.5L947.1 24.4L947.1 24.6L948.0 24.8L948.1 24.5Z" fill="#0eb4e8"/><path d="M922.4 42.8L922.0 43.6L923.0 45.4L923.7 45.6L925.9 44.3L925.3 42.1L924.8 41.9Z" fill="#18b9e5"/><path d="M951.1 34.5L949.6 34.8L949.4 36.4L949.9 36.9L951.0 36.7L951.7 35.4Z" fill="#1ab8ee"/><path d="M908.3 37.1L909.2 35.2L910.0 35.1L910.6 35.3L910.4 37.4L909.9 37.8L908.7 37.4Z" fill="#1099dd"/><path d="M936.7 42.8L934.8 44.4L936.4 46.5L936.4 46.5L938.8 44.7L938.7 44.5Z" fill="#26ccf1"/><path d="M952.3 28.1L952.4 29.3L952.4 29.8L952.4 29.8L951.3 29.5L951.2 28.2L951.3 28.1Z" fill="#16a5e8"/><path d="M915.7 41.4L918.0 41.2L918.8 43.5L918.6 43.7L915.8 44.0Z" fill="#26bbd0"/><path d="M945.8 41.6L945.4 40.5L946.7 39.2L948.4 39.8L948.5 40.0L947.5 42.2Z" fill="#15bfe6"/><path d="M907.3 32.5L906.6 31.9L907.4 30.5L907.9 30.2L908.2 30.3L908.7 31.1L907.3 32.5Z" fill="#1b8dd0"/><path d="M927.8 47.4L926.7 44.6L929.5 44.2L930.2 45.3L928.5 47.5Z" fill="#1bb4e6"/><path d="M953.2 33.0L952.0 32.8L951.8 33.0L951.7 33.9L952.3 34.8L952.8 34.7L953.6 33.4Z" fill="#14bddc"/><path d="M910.2 38.7L910.1 40.5L910.2 40.6L912.1 41.0L912.3 40.9L912.0 38.6L910.8 38.3Z" fill="#19a4dc"/><path d="M939.4 44.3L939.5 44.5L941.0 45.3L942.7 44.0L942.7 44.0L941.4 41.6L940.3 41.7Z" fill="#22bef3"/><path d="M908.4 27.5L908.7 26.9L909.1 27.4L908.5 27.7Z" fill="#21a0db"/><path d="M919.1 44.2L919.1 46.5L920.3 47.4L922.4 45.6L921.4 43.8L919.3 43.9Z" fill="#26b3e8"/><path d="M952.1 38.7L950.7 40.1L949.3 39.6L949.2 39.4L949.8 37.7L951.0 37.5Z" fill="#28c0f7"/><path d="M907.7 36.9L906.6 36.7L906.4 36.5L907.6 34.5L908.6 35.1Z" fill="#1fa1e9"/><path d="M935.9 46.7L934.3 44.6L934.3 44.6L932.1 45.8L932.7 48.3L933.7 48.7Z" fill="#15d2f3"/><path d="M953.4 32.1L952.3 32.0L952.8 30.5L952.9 30.4L953.4 30.5L953.8 30.7L953.9 30.9Z" fill="#1fb3ed"/><path d="M915.0 41.4L915.1 44.0L915.0 44.2L913.2 44.5L912.5 43.8L912.7 41.7L913.0 41.5L914.9 41.4Z" fill="#129eda"/><path d="M943.6 44.1L945.3 45.5L945.5 45.4L947.3 43.0L947.2 42.9L945.5 42.3L943.6 44.0Z" fill="#1ec9f4"/><path d="M906.1 31.9L905.9 31.3L906.0 30.5L906.9 30.4L906.2 31.9Z" fill="#1c83c2"/><path d="M926.2 44.6L926.3 44.7L927.4 47.4L925.1 48.6L923.9 46.0Z" fill="#1fbeef"/><path d="M952.4 35.7L951.7 37.0L952.7 38.1L953.1 38.2L954.1 36.4L953.0 35.7Z" fill="#27b5e7"/><path d="M908.4 38.2L907.5 40.2L907.9 40.7L909.4 40.4L909.6 38.7Z" fill="#0797d7"/><path d="M938.3 48.5L936.8 46.8L939.1 45.0L940.7 45.8L940.7 46.5L939.2 48.5Z" fill="#16c6e7"/><path d="M952.8 27.7L953.4 28.5L952.8 29.0L952.6 27.8Z" fill="#17c0ec"/><path d="M915.7 44.5L918.5 44.2L918.5 46.5L916.5 47.1L915.6 44.7Z" fill="#22b2e9"/><path d="M949.7 43.8L949.6 43.8L948.1 42.7L948.1 42.6L949.0 40.5L950.5 41.0L951.0 41.8Z" fill="#1dceeb"/><path d="M906.2 36.1L907.3 34.1L907.0 33.6L906.9 33.6L905.4 34.8L905.7 35.8Z" fill="#208ad1"/><path d="M929.9 49.6L932.3 48.5L931.6 46.0L930.5 45.6L928.8 47.8L929.9 49.6Z" fill="#08b2fb"/><path d="M955.1 33.8L955.1 35.7L954.6 35.7L953.5 35.1L954.2 33.8Z" fill="#27aee7"/><path d="M912.1 41.7L910.2 41.3L909.9 43.9L911.8 43.8Z" fill="#1f92e9"/><path d="M943.1 44.5L944.8 46.0L944.2 47.8L942.9 48.0L941.4 46.4L941.3 45.8Z" fill="#13bbd8"/><path d="M906.6 29.1L906.1 29.9L906.2 30.0L907.2 29.9L907.7 29.7L907.6 29.4Z" fill="#2586da"/><path d="M950.5 25.4L951.0 26.5L951.3 26.1L951.3 25.9L950.8 25.1Z" fill="#13b4e7"/><path d="M920.7 47.9L920.8 49.0L921.9 49.8L924.5 49.0L924.6 48.8L923.5 46.3L922.8 46.1Z" fill="#1dc5fa"/><path d="M953.1 41.6L953.3 41.5L953.7 39.8L953.1 39.2L952.7 39.1L951.4 40.5L951.8 41.3Z" fill="#26b4f0"/><path d="M907.5 37.6L906.4 37.5L905.8 39.2L905.9 39.5L907.0 39.9L907.9 38.0Z" fill="#2493da"/><path d="M936.5 51.0L934.6 50.5L934.0 49.1L936.2 47.1L936.3 47.1L937.8 48.8Z" fill="#1fb9f0"/><path d="M954.7 31.6L954.4 31.4L953.9 32.6L954.3 33.0L955.1 33.1L955.3 32.9L955.3 32.9Z" fill="#28a8e7"/><path d="M913.3 45.3L912.8 47.1L914.0 48.1L915.8 47.6L916.0 47.3L915.1 45.0Z" fill="#2197de"/><path d="M948.9 46.6L949.4 44.5L947.8 43.4L946.1 45.7L948.4 46.7Z" fill="#0eb9e1"/><path d="M905.1 34.4L904.8 34.2L904.7 33.7L904.8 33.6L905.4 32.7L905.9 32.6L905.9 32.6L906.6 33.2Z" fill="#1280c9"/><path d="M926.9 51.6L929.4 49.8L928.3 48.1L927.6 47.9L925.2 49.1L925.2 49.2L926.1 51.3Z" fill="#1aa7f8"/><path d="M955.6 36.6L955.2 36.5L954.7 36.6L953.8 38.4L954.3 38.9L955.1 38.8L955.6 36.7Z" fill="#19a9e1"/><path d="M909.5 41.1L907.9 41.4L907.5 43.0L907.8 43.4L909.3 43.8L909.4 43.8L909.6 41.3Z" fill="#1c8bd4"/><path d="M940.7 50.4L941.7 50.4L942.6 48.4L941.0 46.8L939.5 48.9Z" fill="#18c4e8"/><path d="M953.4 30.0L952.9 29.9L952.9 29.4L953.5 28.9L953.7 29.0Z" fill="#1eb3e4"/><path d="M918.7 47.0L916.7 47.6L916.5 48.0L917.3 50.0L918.1 50.4L920.0 49.1L920.0 48.0Z" fill="#25aad9"/><path d="M952.2 44.3L952.8 42.3L951.5 42.0L950.3 44.0Z" fill="#1db7e9"/><path d="M905.6 37.1L905.7 37.3L905.1 38.9L904.2 38.8L903.5 38.1L903.5 37.9L904.0 37.2L905.1 36.8Z" fill="#1a92c9"/><path d="M934.1 50.8L933.0 52.5L931.3 52.2L930.2 50.0L932.5 48.9L933.5 49.3Z" fill="#1fbaf6"/><path d="M956.0 35.6L955.7 35.4L955.7 33.6L955.8 33.5L957.3 33.5L957.2 33.7Z" fill="#1aa7db"/><path d="M911.8 44.4L909.9 44.5L909.8 44.6L909.6 46.5L911.1 47.2L912.1 46.8L912.5 45.1Z" fill="#1e9ecd"/><path d="M946.1 49.3L945.9 49.3L944.8 48.0L945.4 46.3L945.6 46.2L948.0 47.2Z" fill="#15c1f4"/><path d="M905.1 32.5L904.5 32.3L904.2 32.4L904.5 33.3Z" fill="#0e7acb"/><path d="M923.7 53.0L922.2 51.9L922.0 50.3L924.7 49.5L925.6 51.5Z" fill="#17ade2"/><path d="M955.6 40.1L955.1 39.9L954.4 40.0L954.0 41.6L955.4 42.5L955.7 42.4Z" fill="#10b0e8"/><path d="M905.8 40.4L906.8 40.8L907.2 41.2L906.8 42.7L905.5 42.7L904.9 42.2Z" fill="#0e89d9"/><path d="M937.7 52.5L936.9 51.2L938.1 49.1L939.1 49.2L940.3 50.7L938.5 52.7Z" fill="#1dc5e8"/><path d="M954.9 31.3L955.5 32.6L955.7 31.7L955.5 31.3Z" fill="#26a7f3"/><path d="M914.8 51.1L913.9 50.2L914.2 48.6L916.0 48.2L916.7 50.1Z" fill="#179ad6"/><path d="M949.5 46.7L949.9 44.7L950.0 44.7L952.0 45.0L952.4 45.3L950.6 47.5L950.3 47.5Z" fill="#18b0e2"/><path d="M905.0 36.1L903.9 36.5L903.8 36.4L903.4 35.2L904.4 35.0L904.7 35.2Z" fill="#157fc8"/><path d="M927.2 51.9L929.7 50.2L929.7 50.2L930.8 52.4L929.3 53.9L927.7 53.0Z" fill="#18c1e1"/><path d="M956.6 39.0L956.8 37.1L956.7 37.1L956.6 37.0L956.0 36.8L955.5 38.9L956.0 39.1Z" fill="#12a5e9"/><path d="M909.1 44.6L907.6 44.2L906.7 46.3L908.0 47.0L908.9 46.5Z" fill="#0d82df"/><path d="M943.1 51.6L942.1 50.6L943.0 48.6L944.3 48.5L945.5 49.8L943.9 51.7Z" fill="#29c6df"/><path d="M905.8 32.0L905.5 31.5L904.6 31.1L904.7 32.0L905.3 32.2Z" fill="#1885c7"/><path d="M921.6 52.0L921.4 50.3L920.4 49.6L918.4 50.9L918.8 52.7L919.6 53.3Z" fill="#0ea6d5"/><path d="M955.1 43.3L953.6 42.4L953.4 42.5L952.8 44.5L953.1 44.8L954.0 45.2L954.3 45.1Z" fill="#11c3ec"/><path d="M905.1 39.8L904.1 39.7L903.3 40.9L904.2 41.8L904.4 41.9L905.3 40.1Z" fill="#0c70c7"/><path d="M935.3 54.8L933.9 54.3L933.4 52.8L934.5 51.1L936.3 51.5L937.2 52.8Z" fill="#16bde5"/><path d="M956.2 36.0L957.4 34.1L957.4 35.1L956.7 36.2L956.2 36.0Z" fill="#19acda"/><path d="M912.3 47.6L913.6 48.5L913.3 50.0L911.5 50.5L911.0 50.0L911.4 48.0Z" fill="#0b8ed4"/><path d="M948.9 50.8L949.8 48.2L949.0 47.4L948.5 47.5L946.6 49.6L948.3 50.8Z" fill="#19b5e8"/><path d="M903.0 35.2L902.7 35.9L903.4 36.4L903.1 35.2Z" fill="#1c6ec8"/><path d="M925.5 56.0L927.2 53.2L926.6 52.1L925.9 51.8L924.0 53.3L924.0 54.5Z" fill="#2bb1e6"/><path d="M957.7 40.3L957.7 40.2L956.8 39.9L956.2 40.0L956.3 42.3L957.0 42.3Z" fill="#25b1e5"/><path d="M905.0 45.0L905.4 43.5L906.8 43.5L907.1 43.9L906.2 46.0L906.2 46.0Z" fill="#177ec3"/><path d="M938.9 52.9L940.6 51.0L941.6 51.1L942.6 52.0L940.8 54.5L939.9 54.3Z" fill="#20c2e1"/><path d="M915.0 52.9L916.3 53.7L918.1 52.8L917.8 51.0L917.0 50.6L915.1 51.5Z" fill="#19a0d9"/><path d="M953.7 46.0L952.9 48.2L952.3 48.3L951.1 47.8L952.8 45.7Z" fill="#15aed7"/><path d="M903.6 39.4L902.9 38.8L902.1 39.3L902.1 40.2L902.6 40.6L902.8 40.7Z" fill="#1770cb"/><path d="M929.7 54.3L931.1 52.8L932.8 53.1L933.3 54.6L931.6 56.3L930.0 55.8Z" fill="#22b1e7"/><path d="M958.0 38.3L958.0 39.4L957.9 39.5L957.0 39.2L957.2 37.4L958.0 37.5Z" fill="#28b6e4"/><path d="M909.2 47.2L908.2 47.7L908.1 49.2L908.6 49.9L910.3 49.8L910.7 47.9Z" fill="#1883d2"/><path d="M947.7 51.4L946.1 50.1L945.9 50.1L944.4 52.0L945.1 53.0L946.5 53.1Z" fill="#19aef6"/><path d="M923.4 54.5L921.2 55.5L920.3 55.1L919.9 53.8L921.9 52.4L923.4 53.4Z" fill="#0ba6e5"/><path d="M956.8 43.5L956.1 43.4L955.8 43.5L955.0 45.2L956.3 46.1L956.7 46.1L957.0 43.6Z" fill="#1eb6d7"/><path d="M903.9 44.9L902.5 44.2L902.5 43.9L904.0 42.8L904.2 42.8L904.8 43.3L904.3 44.8Z" fill="#1276be"/><path d="M937.5 56.9L939.4 54.7L938.4 53.3L937.6 53.1L935.7 55.1L936.4 56.6Z" fill="#18adf0"/><path d="M957.6 35.5L957.5 35.3L956.9 36.4L957.0 36.4Z" fill="#12a4ee"/><path d="M911.7 51.1L913.5 50.7L914.4 51.5L914.3 52.9L913.1 53.5L911.7 52.5Z" fill="#289cd1"/><path d="M949.6 51.1L951.7 51.2L951.8 49.0L950.6 48.5L950.3 48.4L949.4 50.9Z" fill="#14a7dc"/><path d="M902.1 37.7L902.6 38.0L902.6 38.2L901.9 38.8L901.3 38.5L901.3 37.7Z" fill="#1375b4"/><path d="M925.8 56.3L925.8 56.5L927.9 57.2L929.4 56.0L929.1 54.5L927.5 53.5Z" fill="#15a7db"/><path d="M958.8 43.0L958.2 43.1L957.6 43.0L957.4 42.8L958.0 40.9L958.8 42.2Z" fill="#2495e3"/><path d="M906.2 46.9L906.3 46.9L907.5 47.6L907.3 49.0L905.8 49.3L904.9 48.4Z" fill="#0d75ba"/><path d="M941.9 55.6L943.9 55.6L944.5 53.5L943.8 52.5L943.0 52.3L941.2 54.7Z" fill="#22b2fd"/><path d="M919.2 53.9L918.4 53.3L916.6 54.2L916.6 55.9L918.0 56.8L919.6 55.2Z" fill="#1292e0"/><path d="M955.8 46.9L954.5 48.6L953.4 48.1L954.2 46.0L954.5 46.0Z" fill="#1fa8d3"/><path d="M901.7 42.3L902.5 41.5L902.7 41.5L903.6 42.3L902.1 43.4L901.8 43.1Z" fill="#2273b9"/><path d="M935.9 56.9L934.4 58.4L932.5 57.8L932.0 56.6L933.7 54.9L935.1 55.4Z" fill="#16b3e0"/><path d="M959.3 38.6L959.7 39.4L959.3 39.6L958.4 39.6L958.5 38.6Z" fill="#1aa4ea"/><path d="M911.0 51.0L911.0 52.4L909.8 53.0L908.4 51.8L908.8 50.6L910.5 50.5Z" fill="#1586da"/><path d="M949.2 51.9L949.7 54.7L949.5 54.8L947.9 54.4L947.1 53.5L948.3 51.7L948.9 51.7Z" fill="#1cade2"/><path d="M902.4 37.2L902.9 37.6L903.4 36.9L903.3 36.8L902.6 36.3L902.2 36.4Z" fill="#1f6cbd"/><path d="M925.1 56.5L925.2 56.6L923.9 58.2L922.1 57.7L921.5 55.9L923.7 55.0Z" fill="#2aa6d9"/><path d="M958.1 44.2L958.4 46.0L958.3 46.4L957.8 46.7L957.6 46.7L957.2 46.5L957.5 44.0Z" fill="#10a6d6"/><path d="M904.1 45.8L903.3 47.4L904.3 48.0L904.4 48.0L905.6 46.6L904.5 45.7Z" fill="#0a6eb4"/><path d="M937.9 57.1L938.3 57.7L940.7 58.4L941.3 56.1L940.6 55.2L939.8 55.0Z" fill="#21a2f1"/><path d="M914.1 56.6L915.9 55.9L915.9 54.2L914.6 53.5L913.3 54.1L913.1 55.3Z" fill="#1394dc"/><path d="M953.0 51.9L952.4 51.2L952.5 49.1L953.1 48.9L954.1 49.4L954.5 49.9Z" fill="#1caeda"/><path d="M900.6 41.5L900.3 40.9L900.6 40.8L901.5 40.6L902.0 41.1L901.3 41.9Z" fill="#0465a1"/><path d="M929.8 56.4L931.4 56.8L931.8 58.0L930.7 60.1L928.5 58.7L928.3 57.6Z" fill="#15afdf"/><path d="M959.0 41.6L959.3 41.0L959.3 40.9L959.2 40.1L958.4 40.1L958.3 40.1L958.3 40.2Z" fill="#159add"/><path d="M905.5 51.8L905.9 50.1L907.5 49.8L908.0 50.5L907.7 51.6L906.6 52.2Z" fill="#166dc4"/><path d="M946.5 53.9L945.0 53.8L944.4 55.8L945.4 57.0L945.6 57.1L947.2 54.9Z" fill="#11aee0"/><path d="M920.1 59.1L921.5 57.8L920.9 56.1L920.0 55.7L918.3 57.3L918.4 58.4Z" fill="#21a1da"/><path d="M956.0 49.7L956.5 49.7L957.0 47.6L956.6 47.4L956.2 47.3L954.9 49.0L955.3 49.5Z" fill="#19a8eb"/><path d="M903.4 45.6L902.1 44.9L901.4 45.8L901.4 46.1L902.1 47.2L902.6 47.2Z" fill="#1f6cb5"/><path d="M937.3 57.5L937.7 58.1L937.2 60.6L937.0 60.6L935.1 59.7L934.9 58.8L936.3 57.3Z" fill="#279ae6"/><path d="M911.3 53.1L912.6 54.0L912.4 55.2L910.8 55.7L909.6 55.0L910.1 53.7Z" fill="#1293cc"/><path d="M952.6 52.9L951.0 54.7L950.3 54.6L949.8 51.9L951.9 52.0L952.6 52.7Z" fill="#19a1e2"/><path d="M900.6 40.2L901.0 39.0L901.0 39.0L901.6 39.2L901.6 40.0Z" fill="#1d73a3"/><path d="M927.6 57.7L927.8 58.9L926.4 60.8L924.5 59.6L924.3 58.6L925.6 57.0Z" fill="#17c0e6"/><path d="M959.1 43.6L959.6 43.6L959.7 44.2L959.5 45.0L958.9 45.5L958.6 43.7Z" fill="#1aa4c9"/><path d="M904.4 49.0L905.2 49.9L904.8 51.6L904.8 51.6L903.3 50.6L904.3 49.0Z" fill="#246ca7"/><path d="M941.9 56.3L943.8 56.3L944.9 57.6L942.9 59.6L941.5 59.1L941.3 58.6Z" fill="#24a4da"/><path d="M914.3 58.1L916.5 59.6L916.5 59.6L917.7 58.5L917.6 57.4L916.2 56.6L914.4 57.3Z" fill="#1e93d2"/><path d="M953.4 52.6L953.7 52.7L955.2 52.7L955.5 50.7L954.8 50.4L953.3 52.3Z" fill="#1a98d4"/><path d="M900.0 43.6L900.0 43.7L900.3 44.9L901.0 45.2L901.6 44.3L901.6 44.0L901.3 43.7Z" fill="#1d67a8"/><path d="M933.1 61.8L931.2 60.7L931.1 60.4L932.3 58.3L934.2 59.0L934.4 59.8Z" fill="#1da1df"/><path d="M960.0 41.8L959.6 41.2L959.7 41.2L960.1 41.4Z" fill="#13afda"/><path d="M906.9 53.0L908.0 52.4L909.3 53.6L908.9 54.9L907.7 55.3L907.4 55.0Z" fill="#1b7bb8"/><path d="M947.6 55.2L946.0 57.3L946.9 58.0L948.5 57.8L949.2 55.6Z" fill="#2aa4db"/><path d="M920.8 60.2L922.6 61.1L923.8 59.8L923.7 58.8L921.9 58.2L920.6 59.5Z" fill="#1b91da"/><path d="M957.7 47.8L958.0 47.8L959.0 49.1L959.0 49.5L959.0 50.0L958.7 50.1L957.9 50.2L957.2 49.8Z" fill="#13a3de"/><path d="M903.7 48.7L902.7 50.2L902.2 50.2L901.5 49.4L901.6 48.8L902.2 48.1L902.7 48.1Z" fill="#0b6cad"/><path d="M940.6 59.0L940.9 59.5L939.3 61.5L939.1 61.6L937.7 60.8L938.2 58.3Z" fill="#12a9e4"/><path d="M913.5 57.9L912.7 58.5L911.1 58.2L911.1 56.4L912.7 55.9L913.6 57.1Z" fill="#287bd1"/><path d="M953.0 53.4L951.5 55.1L952.0 55.8L953.3 56.2L954.1 56.1L953.3 53.6Z" fill="#1aa4db"/><path d="M899.9 43.1L901.2 43.2L901.1 42.5L900.4 42.0L900.1 42.5Z" fill="#16639e"/><path d="M927.0 61.6L929.0 62.6L930.5 60.8L930.4 60.6L928.3 59.2L926.9 61.1Z" fill="#099fda"/><path d="M959.9 45.3L960.4 45.4L960.7 45.2L960.0 44.5Z" fill="#1ba2db"/><path d="M904.3 53.8L904.4 53.3L905.0 52.5L905.1 52.5L906.2 52.9L906.6 54.8L904.8 54.6Z" fill="#2068b2"/><path d="M946.3 58.6L946.3 61.1L945.4 61.4L943.5 60.0L943.5 59.9L945.3 57.9L945.4 58.0Z" fill="#21a5dd"/><path d="M920.1 60.3L919.0 62.2L917.1 60.0L918.2 58.9L919.9 59.6Z" fill="#1b89d0"/><path d="M955.8 52.6L956.1 52.8L957.0 52.8L957.3 51.0L956.6 50.6L956.1 50.7Z" fill="#1ba5da"/><path d="M901.0 46.6L901.7 47.6L901.1 48.3L900.2 47.9L900.3 47.1Z" fill="#1c66b0"/><path d="M933.5 62.1L933.5 62.1L934.7 60.2L936.7 61.1L935.1 63.2Z" fill="#1ba9e3"/><path d="M909.6 58.5L910.3 58.0L910.3 56.3L909.2 55.7L908.0 56.1L907.7 57.1Z" fill="#1e7cc1"/><path d="M950.0 55.6L950.7 55.6L951.3 56.3L950.8 58.8L949.7 58.4L949.1 57.8L949.8 55.7Z" fill="#21a1dc"/><path d="M924.8 63.8L926.3 61.8L926.1 61.3L924.3 60.2L923.0 61.5L923.1 62.9Z" fill="#1c9ae3"/><path d="M958.9 46.9L958.5 47.2L959.4 48.4L960.6 47.4L960.6 47.4L960.3 47.1Z" fill="#1da2e7"/><path d="M904.3 52.1L902.9 51.1L902.4 51.1L902.0 51.9L902.1 52.4L903.7 52.8Z" fill="#0f5cab"/><path d="M941.9 63.2L939.8 61.7L941.3 59.7L942.7 60.2L942.8 60.4Z" fill="#1b96e5"/><path d="M913.9 58.5L916.0 60.0L915.1 61.2L913.1 60.6L913.1 59.1Z" fill="#1979d9"/><path d="M953.9 53.5L954.7 56.0L955.0 56.0L955.3 56.0L955.6 53.7L955.3 53.5Z" fill="#109dd7"/><path d="M931.3 64.7L929.6 63.8L929.4 62.9L930.9 61.2L932.8 62.3L932.8 62.4Z" fill="#1b9fd4"/><path d="M959.6 45.6L959.0 46.1L958.9 46.5L960.2 46.7L960.2 45.8Z" fill="#1a9dd5"/><path d="M904.8 56.3L905.2 55.3L906.9 55.5L907.2 55.9L907.0 56.9L906.6 57.2Z" fill="#2062a6"/><path d="M947.0 58.7L946.9 61.1L947.8 61.5L949.1 59.1L948.5 58.5Z" fill="#159add"/><path d="M922.3 63.0L922.3 61.6L920.5 60.7L919.4 62.7L919.4 62.9L920.6 64.0Z" fill="#169ac1"/><path d="M957.5 53.0L957.8 51.2L958.6 51.2L958.8 53.6L958.2 53.5Z" fill="#0997cc"/><path d="M900.4 50.3L900.6 51.3L901.4 51.6L901.8 50.8L901.1 50.0Z" fill="#154d9f"/><path d="M935.8 64.0L935.6 63.5L937.1 61.4L937.3 61.4L938.6 62.1L937.8 64.4L937.6 64.4Z" fill="#1ea7e3"/><path d="M909.9 60.2L910.7 61.6L910.7 61.7L911.5 61.6L912.3 60.7L912.4 59.3L910.8 58.9L910.1 59.4Z" fill="#2276c2"/><path d="M951.8 56.7L951.3 59.1L951.3 59.1L952.3 59.5L953.0 57.1Z" fill="#1e96d1"/><path d="M925.4 64.3L926.9 65.5L927.5 65.4L928.8 64.0L928.6 63.1L926.7 62.2L925.3 64.2Z" fill="#1097c4"/><path d="M960.3 48.9L959.6 49.3L959.5 48.9L960.7 47.8Z" fill="#1c92e0"/><path d="M903.9 56.1L904.0 56.1L904.3 55.1L903.9 54.4L902.7 55.1L902.7 55.9Z" fill="#17519f"/><path d="M944.2 64.1L945.0 62.2L943.1 60.8L942.2 63.6L942.3 63.7Z" fill="#089ddf"/><path d="M918.6 62.6L918.6 62.8L916.6 63.6L915.8 63.0L915.7 61.7L916.7 60.5L916.7 60.5Z" fill="#0a8aca"/><path d="M956.2 56.1L957.6 54.2L957.0 53.7L956.1 53.7L955.7 55.9Z" fill="#1c8ddf"/><path d="M899.9 48.5L899.4 48.5L899.4 49.6L899.8 49.7L900.0 49.7L900.7 49.4L900.8 48.9Z" fill="#1a5090"/><path d="M935.1 64.3L934.8 63.8L933.3 62.7L931.8 65.0L931.9 65.2L933.6 66.2L934.0 66.1Z" fill="#20a0dc"/><path d="M906.4 59.1L906.4 59.4L908.1 60.0L909.0 59.8L909.1 59.0L907.3 57.7L907.0 58.0Z" fill="#1f5fad"/><path d="M949.5 59.4L948.3 61.7L948.5 61.9L949.4 62.0L950.6 59.8L950.6 59.8Z" fill="#1d99f1"/><path d="M924.5 64.4L923.4 66.2L921.0 65.2L921.1 64.4L922.7 63.5L924.5 64.3Z" fill="#1d82d5"/><path d="M959.5 53.5L959.9 52.2L959.9 51.2L959.4 51.0L959.0 51.1L959.2 53.5L959.3 53.5Z" fill="#1299df"/><path d="M903.5 53.9L903.6 53.4L902.0 52.9L901.7 53.4L901.7 53.9L902.4 54.6Z" fill="#125497"/><path d="M940.3 65.5L938.4 64.5L939.2 62.3L939.5 62.2L941.5 63.8L941.6 63.9Z" fill="#1c93e8"/><path d="M915.0 63.0L913.4 63.6L912.2 62.1L913.0 61.2L915.0 61.8Z" fill="#1d72b0"/><path d="M954.3 57.1L954.6 57.1L954.2 59.5L953.4 59.7L953.0 59.7L952.8 59.6L953.5 57.2Z" fill="#2ba1dd"/><path d="M931.1 65.5L929.9 67.4L929.5 67.5L928.1 65.8L929.4 64.4L931.0 65.3Z" fill="#1c90d2"/><path d="M904.1 58.1L905.6 58.6L906.2 57.6L904.4 56.8L904.4 56.8Z" fill="#255994"/><path d="M944.9 64.3L945.9 64.8L947.1 64.8L947.7 62.6L947.4 62.4L946.5 62.0L945.7 62.3L944.9 64.2Z" fill="#157edd"/><path d="M920.1 65.2L919.7 66.0L917.1 65.6L917.1 64.2L919.0 63.4L920.2 64.5Z" fill="#1f86d1"/><path d="M958.6 55.3L958.7 54.6L958.6 54.6L958.0 54.5L956.7 56.4L957.0 56.6L957.1 56.7L957.2 56.6Z" fill="#1496df"/><path d="M901.4 52.1L900.5 51.9L900.2 52.1L900.5 52.8L901.1 52.9L901.4 52.5Z" fill="#1c499b"/><path d="M935.6 64.7L934.6 66.4L936.4 67.5L936.7 67.5L937.3 65.1Z" fill="#1e9cd6"/><path d="M909.2 60.5L910.0 61.9L907.8 62.2L907.8 62.1L908.4 60.7Z" fill="#1558a1"/><path d="M951.5 62.9L951.8 62.8L952.3 60.6L952.1 60.4L951.1 60.1L949.9 62.2L950.4 62.6Z" fill="#1491dc"/><path d="M925.0 64.8L926.5 66.0L925.6 68.1L924.0 67.1L923.9 66.6Z" fill="#1d8ed4"/><path d="M960.2 50.9L960.8 50.9L960.7 51.7L960.7 51.9L960.2 51.9Z" fill="#1f89dc"/><path d="M903.5 58.0L903.7 56.7L902.5 56.4L902.3 56.6L903.0 58.1Z" fill="#1f448e"/><path d="M943.9 64.9L943.2 66.9L941.9 67.0L941.0 66.4L940.9 66.0L942.1 64.4L943.9 64.8Z" fill="#1387d3"/><path d="M915.6 66.4L915.8 66.3L916.2 65.6L916.2 64.3L915.4 63.7L913.8 64.3L913.5 65.4Z" fill="#106ca7"/><path d="M955.7 59.6L954.8 59.4L955.2 57.0L955.4 57.0L956.0 57.1L956.3 57.4L956.1 59.5Z" fill="#198ecf"/><path d="M932.7 68.8L933.2 66.8L931.6 65.8L930.4 67.8L932.6 68.9Z" fill="#228ad6"/><path d="M907.9 60.5L907.3 61.9L905.9 60.7L906.2 59.9Z" fill="#135da4"/><path d="M948.9 65.4L948.4 65.4L947.8 64.9L948.3 62.8L949.2 62.9L949.6 63.3Z" fill="#197fdb"/><path d="M923.1 66.7L923.2 67.2L921.9 68.4L920.4 67.1L920.4 66.5L920.8 65.7Z" fill="#1e7ac2"/><path d="M959.0 56.2L959.0 57.0L957.6 56.9L958.9 55.5Z" fill="#1b91ce"/><path d="M901.8 56.0L901.7 56.0L900.7 55.0L900.7 54.8L901.4 54.4L902.1 55.1L902.0 55.8Z" fill="#144a8b"/><path d="M937.9 65.3L938.1 65.2L940.0 66.2L940.1 66.7L938.6 68.6L938.6 68.6L937.3 67.6Z" fill="#129dda"/><path d="M912.3 65.2L910.3 64.7L910.9 62.6L911.7 62.5L912.9 64.0L912.6 65.0Z" fill="#145b92"/><path d="M954.4 62.8L953.9 63.1L952.7 63.1L952.4 62.9L952.8 60.8L953.2 60.8Z" fill="#0e89dd"/><path d="M927.1 66.4L927.6 66.3L929.0 68.0L928.1 69.5L928.1 69.5L926.3 68.9L926.2 68.5Z" fill="#097dda"/><path d="M903.9 58.8L905.4 59.3L905.4 59.6L905.1 60.4L904.7 60.7L903.5 60.3L903.3 60.2L903.3 59.1L903.3 59.0Z" fill="#1a4c9a"/><path d="M944.5 65.2L945.5 65.7L945.6 67.9L944.7 68.2L943.8 67.1Z" fill="#1986d5"/><path d="M919.5 67.2L919.5 66.6L917.0 66.2L916.5 66.9L918.2 68.6L918.3 68.6Z" fill="#1e61be"/><path d="M957.5 58.5L956.8 57.8L956.8 57.8L956.5 59.8L957.3 60.1L957.4 60.1L957.4 60.1Z" fill="#0c86ed"/><path d="M901.0 53.9L901.0 53.3L900.4 53.2L899.8 53.4L900.4 54.3Z" fill="#104b86"/><path d="M933.2 69.0L933.8 67.0L934.1 66.9L936.0 68.0L934.3 69.9L934.3 69.9Z" fill="#1780ca"/><path d="M909.4 64.5L908.0 64.1L907.8 63.3L907.9 62.7L910.1 62.5L910.1 62.5L909.5 64.5Z" fill="#1b63a4"/><path d="M950.4 65.8L951.2 63.8L950.1 63.5L949.3 65.6L950.2 65.9Z" fill="#2685dd"/><path d="M925.4 68.7L925.5 69.1L924.3 70.3L924.0 70.4L922.6 69.4L922.5 68.9L923.7 67.7Z" fill="#1c7cb6"/><path d="M959.8 55.8L959.4 55.8L959.3 55.1L959.4 54.5L959.6 54.4L960.1 54.5L960.0 55.8Z" fill="#1895d7"/><path d="M901.4 57.1L901.9 56.8L902.0 56.8L902.6 58.3L902.5 58.4L902.0 58.4L901.4 58.0Z" fill="#153d8a"/><path d="M940.6 67.2L939.2 69.0L941.0 69.8L941.7 69.6L941.5 67.7Z" fill="#1d86c4"/><path d="M914.1 68.6L912.7 66.7L912.8 66.1L913.1 65.9L915.2 66.9L914.1 68.6Z" fill="#135c97"/><path d="M955.3 60.6L954.5 60.3L953.7 60.5L954.8 62.5L955.0 62.5Z" fill="#218ad1"/><path d="M932.1 69.2L930.0 68.1L929.6 68.3L928.8 69.7L930.5 70.8Z" fill="#056eba"/><path d="M905.3 61.6L905.5 62.7L906.9 62.8L907.1 62.3L907.0 62.3L905.7 61.1L905.3 61.4Z" fill="#104094"/><path d="M947.4 68.0L947.1 68.0L946.2 67.9L946.1 65.7L947.3 65.7L947.9 66.2Z" fill="#1a82bb"/><path d="M921.7 68.9L920.2 67.6L919.0 69.0L920.6 70.3L921.7 69.3Z" fill="#2262b1"/><path d="M958.1 58.9L958.1 59.5L957.7 60.2L957.6 60.2L957.7 58.7Z" fill="#148ad7"/><path d="M936.9 68.3L938.2 69.2L937.6 70.9L937.5 70.9L935.0 70.2L936.6 68.3Z" fill="#1a84c3"/><path d="M912.0 65.8L910.0 65.3L909.9 65.3L909.7 66.5L911.0 67.4L911.9 66.4Z" fill="#243d8f"/><path d="M951.0 65.8L951.4 66.1L952.5 66.0L952.6 65.9L952.3 63.9L952.0 63.8L951.7 63.9Z" fill="#207cc3"/><path d="M927.1 72.0L927.8 70.2L926.1 69.6L925.0 70.8L926.3 72.3Z" fill="#08709f"/><path d="M904.5 61.5L903.3 62.4L902.9 62.0L903.3 61.0L904.5 61.3Z" fill="#173b89"/><path d="M942.1 67.8L942.3 69.7L943.3 70.1L943.8 70.1L944.3 68.9L943.4 67.7Z" fill="#2479c0"/><path d="M914.7 69.0L914.9 69.4L916.9 69.9L917.6 68.9L916.0 67.3L915.8 67.3Z" fill="#134ba7"/><path d="M956.1 62.6L955.9 62.7L955.5 62.6L955.8 60.8L956.2 60.7L957.0 61.0L956.6 61.9Z" fill="#1582c0"/><path d="M932.8 69.7L933.9 70.5L933.5 72.0L933.0 72.2L931.2 71.4L931.1 71.2L932.7 69.7Z" fill="#176ab6"/><path d="M908.8 66.4L908.5 66.7L906.8 65.9L906.8 65.9L906.8 65.5L907.6 64.9L909.0 65.2Z" fill="#0a4782"/><path d="M949.7 66.6L949.4 68.5L948.2 68.4L947.9 68.1L948.4 66.4L948.9 66.4Z" fill="#037dbe"/><path d="M922.1 69.9L923.5 70.9L922.8 72.2L921.0 71.3L921.0 70.8Z" fill="#0e70a3"/><path d="M958.2 58.3L959.0 57.7L958.8 57.4L957.4 57.3L957.2 57.3L957.8 58.0Z" fill="#0e86d6"/><path d="M902.1 59.1L902.6 59.1L902.6 60.1L902.1 60.3L901.5 59.7Z" fill="#11438a"/><path d="M939.1 72.1L938.2 71.2L938.8 69.6L938.8 69.6L940.6 70.3L940.1 72.0Z" fill="#1171be"/><path d="M913.6 68.9L911.4 68.9L911.4 68.0L912.3 67.1Z" fill="#114799"/><path d="M953.9 64.0L952.8 63.9L953.1 65.8L953.3 65.8L954.2 64.8Z" fill="#1b6fbd"/><path d="M930.3 71.6L929.8 73.0L929.1 73.3L927.9 72.2L928.5 70.4L928.6 70.4L930.2 71.4Z" fill="#1363a6"/><path d="M905.2 64.0L905.6 64.6L906.2 65.0L907.1 64.3L906.9 63.5L905.5 63.4Z" fill="#1e3a81"/><path d="M944.5 70.2L944.9 69.1L945.7 68.7L946.6 68.8L945.7 71.1L944.8 70.6Z" fill="#195eaf"/><path d="M917.7 70.5L918.4 69.5L918.5 69.4L920.1 70.7L920.1 71.2L919.4 72.0L917.8 71.1Z" fill="#1a4a96"/><path d="M957.2 62.8L956.3 62.9L956.8 62.2L957.2 62.8Z" fill="#207dc2"/><path d="M934.6 70.8L934.6 70.8L937.0 71.5L935.5 73.3L935.2 73.3L934.2 72.3Z" fill="#1966b5"/><path d="M910.6 68.9L910.4 69.2L909.4 68.8L908.9 68.4L908.8 68.0L909.1 67.5L909.4 67.2L910.6 68.0Z" fill="#11518a"/><path d="M950.6 66.8L951.0 67.0L951.2 68.6L951.2 68.8L950.2 68.8L950.0 68.7L950.3 66.8Z" fill="#1572ba"/><path d="M925.2 73.9L925.8 72.7L924.5 71.2L924.2 71.3L923.5 72.7L923.5 72.7L925.2 73.9Z" fill="#0a52ad"/><path d="M904.6 61.9L904.9 63.0L904.6 63.6L903.5 63.4L903.5 62.9Z" fill="#08358a"/><path d="M941.5 72.6L940.8 72.2L941.3 70.6L941.9 70.4L942.8 70.8L941.7 72.6Z" fill="#2364c0"/><path d="M914.9 70.1L916.8 70.6L916.9 71.3L916.5 71.8L915.6 72.2L914.6 70.8Z" fill="#115190"/><path d="M954.8 65.4L954.7 66.5L954.7 66.6L953.7 66.2L954.5 65.2Z" fill="#1579bf"/><path d="M930.9 72.0L930.4 73.4L931.7 74.3L932.6 72.8Z" fill="#1072a6"/><path d="M906.9 67.5L906.7 66.3L908.4 67.2L908.2 67.6Z" fill="#1c3471"/><path d="M947.6 69.3L947.5 71.0L946.7 71.2L946.3 71.2L946.2 71.2L947.1 69.0L947.3 69.0Z" fill="#0e6cba"/><path d="M921.7 73.9L922.5 72.7L922.5 72.7L920.8 71.8L920.1 72.6L920.1 72.8Z" fill="#234f94"/><path d="M937.0 74.3L936.2 73.6L937.7 71.9L937.7 71.9L938.6 72.7L938.4 73.9Z" fill="#0c5faa"/><path d="M913.8 69.4L911.6 69.4L911.5 69.7L911.4 70.0L913.1 70.9L913.7 70.4L913.9 69.7L913.8 69.4Z" fill="#01488f"/><path d="M951.9 68.2L952.6 67.0L952.6 66.8L951.5 66.9L951.7 68.4L951.9 68.2Z" fill="#2968b7"/><path d="M927.9 75.0L926.0 74.3L926.6 73.1L927.4 72.9L928.5 74.0L928.1 75.0Z" fill="#154a96"/><path d="M942.2 72.7L943.3 71.0L943.8 70.9L944.2 71.3L943.6 72.9L942.7 73.1Z" fill="#0e67ae"/><path d="M917.3 72.4L917.7 73.7L918.2 74.0L918.7 73.8L919.2 72.8L919.2 72.7L917.7 71.9Z" fill="#1e3e7e"/><path d="M955.6 63.5L956.1 64.2L955.1 64.8L955.1 64.8L954.7 64.5L954.5 63.7L955.0 63.4L955.1 63.4Z" fill="#1b79c3"/><path d="M933.2 73.1L932.3 74.6L932.4 74.9L933.6 75.2L933.8 75.2L934.7 74.0L933.7 73.0Z" fill="#1f56a9"/><path d="M908.1 69.3L908.6 68.8L909.0 69.1L908.6 69.9Z" fill="#0a2e7b"/><path d="M948.6 71.1L949.5 70.3L949.6 69.6L949.4 69.4L948.2 69.3L948.1 71.0L948.3 71.1Z" fill="#1569a4"/><path d="M924.8 74.5L923.2 73.4L922.4 74.6L922.4 74.7L923.8 75.8L923.9 75.8L924.3 75.5Z" fill="#0f4a88"/><path d="M940.3 74.9L941.0 73.4L940.3 73.0L939.3 73.0L939.1 74.2L939.4 74.6L940.2 74.9Z" fill="#0f6ea5"/><path d="M914.0 71.2L913.4 71.7L913.2 72.3L913.2 72.4L914.8 72.8L915.0 72.5Z" fill="#0c2f8b"/><path d="M952.8 67.6L952.7 67.1L952.1 68.2Z" fill="#0069b8"/><path d="M930.9 75.9L931.5 75.1L931.4 74.9L930.1 74.0L929.4 74.3L929.0 75.3L929.7 76.1Z" fill="#10548f"/><path d="M907.7 69.0L908.2 68.5L908.1 68.1L906.9 68.0L906.9 68.0L907.3 69.2Z" fill="#112e75"/><path d="M944.2 73.1L944.6 73.5L944.6 73.5L945.5 73.4L945.6 72.0L945.6 72.0L944.7 71.6Z" fill="#165cad"/><path d="M920.6 75.4L919.4 74.2L919.9 73.3L921.5 74.4L921.5 74.5Z" fill="#103a85"/><path d="M936.4 75.8L935.3 76.1L934.5 75.4L935.3 74.2L935.6 74.2L936.4 74.9Z" fill="#114388"/><path d="M912.7 71.4L911.1 70.4L910.9 70.8L911.4 71.7L912.4 72.0Z" fill="#073575"/><path d="M927.5 75.4L925.7 74.7L925.6 74.7L925.1 75.7L926.4 76.6Z" fill="#0f5b95"/><path d="M940.9 74.9L941.6 73.5L941.7 73.5L942.2 73.8L942.4 74.9L942.1 75.0Z" fill="#124fa7"/><path d="M915.6 72.9L915.5 73.2L915.5 73.5L915.8 74.0L915.9 74.1L916.9 73.8L916.6 72.6Z" fill="#0c4285"/><path d="M932.1 77.3L933.0 77.1L933.3 75.9L932.1 75.5L931.6 76.3Z" fill="#1e4095"/><path d="M909.0 70.2L909.4 69.4L910.4 69.8L910.4 70.1L910.2 70.4L909.7 70.7L909.0 70.4Z" fill="#022c7e"/><path d="M920.9 75.9L920.9 76.1L921.4 76.7L923.1 76.1L921.8 75.1L920.9 75.9Z" fill="#172884"/><path d="M937.2 76.0L938.2 76.2L938.7 75.0L938.4 74.7L937.1 75.1L937.1 75.9Z" fill="#174f91"/><path d="M913.3 72.9L913.9 73.8L914.9 73.5L914.9 73.5L914.9 73.2L913.3 72.8Z" fill="#0f2b7f"/><path d="M950.5 70.5L950.3 70.2L950.3 69.6L951.3 69.5L952.3 70.3L951.0 70.7Z" fill="#1966ab"/><path d="M928.3 77.7L927.5 77.6L927.3 77.4L927.1 77.2L927.1 77.1L928.1 75.9L928.3 75.9L929.0 76.7L928.9 77.3L928.6 77.5Z" fill="#083e96"/><path d="M942.8 74.8L942.9 74.9L944.0 74.0L943.6 73.6L942.7 73.8Z" fill="#0b5695"/><path d="M920.0 75.7L918.3 75.7L918.2 75.6L918.2 75.5L918.4 74.7L918.9 74.5L920.0 75.7Z" fill="#0a3583"/><path d="M934.9 76.7L934.9 77.3L934.5 77.6L934.1 77.7L933.6 77.2L933.9 76.1L934.1 76.0Z" fill="#194793"/><path d="M912.6 72.4L912.6 72.5L912.6 72.7L912.3 73.0L911.1 72.8L911.5 72.2Z" fill="#032e73"/><path d="M926.1 77.1L924.8 76.2L924.4 76.5L924.3 76.7L924.6 77.1L925.4 77.9L926.1 77.1Z" fill="#103576"/><path d="M940.1 75.6L939.3 75.2L938.8 76.4L938.9 76.5L940.0 76.5L940.2 76.2Z" fill="#1d4486"/><path d="M917.6 75.3L917.8 74.5L917.3 74.2L916.3 74.5L916.4 74.9Z" fill="#112a77"/><path d="M931.4 78.0L930.4 78.0L930.1 77.9L929.7 77.4L929.8 76.9L931.0 76.7L931.5 77.7Z" fill="#1e3b85"/><path d="M943.4 75.4L943.9 75.7L944.0 75.4L944.2 74.9L944.2 74.3L944.2 74.3L943.1 75.1Z" fill="#26469c"/><path d="M921.9 77.0L921.9 77.2L923.2 77.5L923.6 76.7L923.6 76.4L923.6 76.4Z" fill="#1b3d8a"/><path d="M936.6 76.5L936.6 77.6L935.8 77.6L935.5 77.4L935.5 76.8L936.6 76.4Z" fill="#0d488b"/><path d="M948.2 72.7L948.2 71.8L948.5 71.8L949.3 72.6L948.2 72.7Z" fill="#114f91"/><path d="M920.2 76.1L918.5 76.0L919.1 76.8L919.8 76.7L920.2 76.3Z" fill="#14346d"/><path d="M933.8 78.7L933.8 79.5L932.9 78.7Z" fill="#183176"/><path d="M944.7 74.6L944.7 74.1L945.6 74.0L946.0 74.5L945.3 74.7Z" fill="#00579c"/><path d="M924.2 78.2L923.5 78.1L923.5 77.8L923.9 77.0L924.2 77.3Z" fill="#0e2a6b"/><path d="M937.2 76.6L937.1 77.7L937.6 78.2L938.3 77.3L938.3 76.9L938.2 76.8Z" fill="#17428f"/><path d="M929.6 79.1L929.7 78.1L929.3 77.7L929.0 77.9Z" fill="#13266d"/><path d="M940.7 75.4L941.9 75.5L941.5 76.2L940.7 76.1L940.6 75.4Z" fill="#173d94"/>
<path d="M886.5 65.6C905 56 940 45.5 973.5 42.2C940 46.5 906 57.5 886.5 65.6Z" fill="#111" stroke="#111" stroke-width=".9" stroke-linejoin="round"/>
<text x="896.2" y="101" style="font-size:19.5px;fill:#111;stroke:#111;stroke-width:.7px" textLength="64.5" lengthAdjust="spacingAndGlyphs">APCC</text>
<text x="896.7" y="107.9" style="font-size:4.6px;fill:#222" textLength="64.5" lengthAdjust="spacing">APEC CLIMATE CENTER</text>
</g>
</svg>
</body></html>
